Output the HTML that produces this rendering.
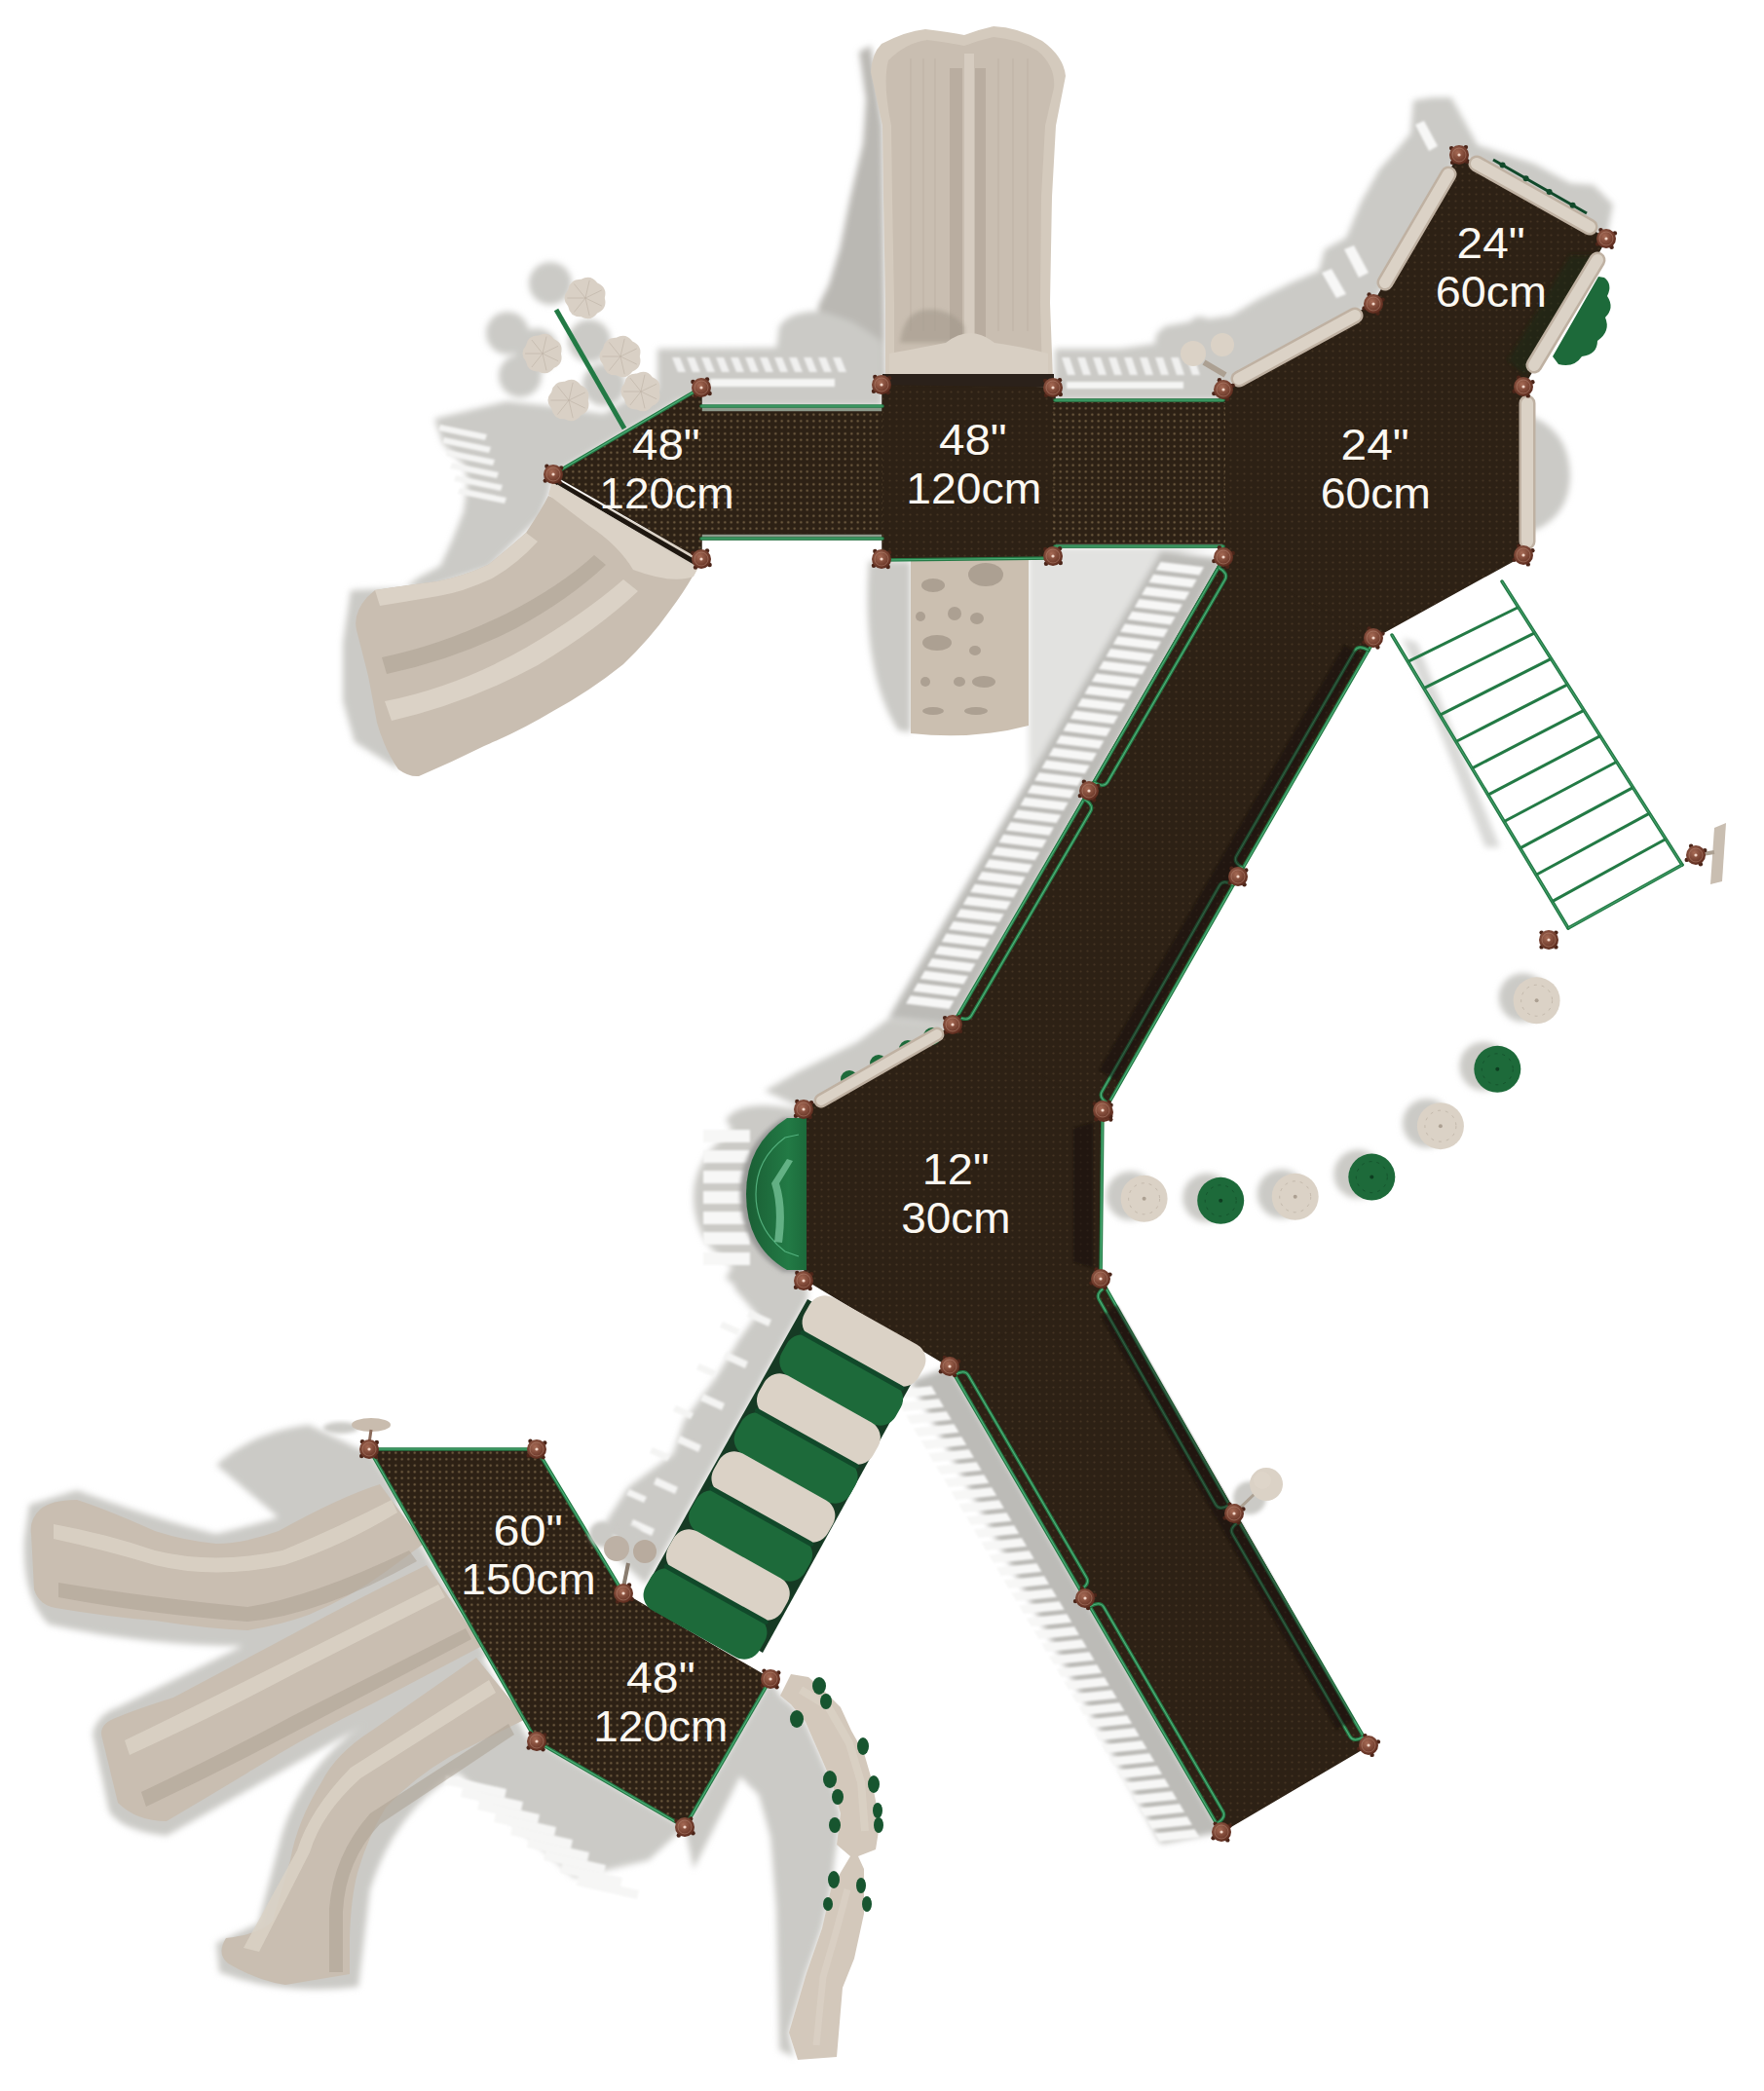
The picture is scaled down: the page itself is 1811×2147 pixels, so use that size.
<!DOCTYPE html>
<html><head><meta charset="utf-8"><style>
html,body{margin:0;padding:0;background:#fff;}
body{width:1811px;height:2147px;overflow:hidden;font-family:"Liberation Sans", sans-serif;}
svg{display:block;}
</style></head><body>
<svg width="1811" height="2147" viewBox="0 0 1811 2147"><defs>
<filter id="b3" x="-20%" y="-20%" width="140%" height="140%"><feGaussianBlur stdDeviation="3"/></filter>
<filter id="b2" x="-20%" y="-20%" width="140%" height="140%"><feGaussianBlur stdDeviation="2"/></filter>
<filter id="b1" x="-20%" y="-20%" width="140%" height="140%"><feGaussianBlur stdDeviation="1"/></filter>
<pattern id="dots" width="7" height="7" patternUnits="userSpaceOnUse"><circle cx="3.5" cy="3.5" r="1.1" fill="#5a4630"/></pattern>
<pattern id="dotsB" width="6.5" height="6.5" patternUnits="userSpaceOnUse"><circle cx="3.25" cy="3.25" r="1.15" fill="#8a7452"/></pattern>
<radialGradient id="postg" cx="0.42" cy="0.38" r="0.62"><stop offset="0" stop-color="#a56a55"/><stop offset="1" stop-color="#5e2c1e"/></radialGradient>
<linearGradient id="gdisc" x1="0" y1="0" x2="1" y2="0"><stop offset="0" stop-color="#1a5e34"/><stop offset="0.7" stop-color="#227a45"/><stop offset="1" stop-color="#1c6a3b"/></linearGradient>
</defs>
<g filter="url(#b3)">
<path d="M882,53 L894,47 L906,129 L909,390 L840,390 L840,314 L851,292 L862,256 L873,202 L886,147 L889,102 Z" fill="#bab8b3" />
<path d="M800,335 Q812,318 845,320 L875,330 L905,350 L906,398 L792,398 Z" fill="#cbcac6" />
<polygon points="675.0,358.0 906.0,356.0 906.0,417.0 720.0,417.0 675.0,400.0" fill="#cbcac6" />
<path d="M446,430 L520,412 L575,418 L620,425 L660,400 L720,398 L568,487 L563,509 L555,530 L502,583 L443,603 L381,605 L360,606 L352,660 L352,720 L364,762 L409,790 L395,620 L428,594 L452,581 L464,555 L476,525 L480,494 L476,477 L455,456 Z" fill="#cbcac6" />
<polygon points="1083.0,358.0 1150.0,358.0 1192.0,352.0 1256.0,400.0 1256.0,411.0 1083.0,411.0" fill="#cbcac6" />
<path d="M1256,400 L1192,363 L1190,352 L1195,335 L1229,329 L1264,324 L1292,307 L1326,290 L1354,278 L1360,256 L1382,244 L1397,208 L1416,174 L1434,154 L1448,137 L1451,103 L1470,100 L1490,100 L1517,149 L1575,168 L1612,188 L1636,190 L1656,210 L1649,245 L1498,159 L1410,312 Z" fill="#cbcac6" />
<path d="M1566,425 Q1612,440 1612,490 Q1610,535 1566,548 Z" fill="#cbcac6" />
<path d="M935,576 L892,576 Q884,690 922,750 L935,752 Z" fill="#cbcac6" />
<path d="M1056,562 L1256,562 L1192,570 L1110,712 L1056,800 Z" fill="#e2e2e0" />
<polygon points="1256.0,574.0 1192.0,566.0 912.0,1045.0 978.0,1052.0" fill="#bcbbb7" />
<polygon points="979.0,1053.0 912.0,1046.0 880.0,1070.0 820.0,1100.0 785.0,1120.0 826.0,1139.0" fill="#cbcac6" />
<path d="M812,1138 Q760,1128 745,1150 L752,1160 Q712,1190 712,1228 Q712,1275 752,1300 L745,1312 Q760,1330 812,1325 L826,1320 L826,1139 Z" fill="#cbcac6" />
<polygon points="975.0,1403.0 935.0,1418.0 1192.0,1893.0 1254.0,1881.0" fill="#bcbbb7" />
<polygon points="829.0,1320.0 793.0,1300.0 754.0,1311.0 754.0,1323.0 777.0,1350.0 759.0,1375.0 736.0,1413.0 702.0,1459.0 691.0,1493.0 645.0,1527.0 623.0,1561.0 616.0,1583.0 663.0,1627.0 829.0,1334.0" fill="#cbcac6" />
<path d="M222,1504 Q260,1470 317,1463 L376,1491 L379,1488 L410,1540 L300,1570 Z" fill="#cbcac6" />
<polygon points="551.0,1788.0 703.0,1876.0 666.0,1910.0 590.0,1928.0 461.0,1812.0" fill="#cbcac6" />
<path d="M791,1724 L801,1741 L812,1750 L827,1768 L841,1800 L854,1830 L863,1862 L859,1894 L853,1940 L844,1980 L828,2026 L810,2087 L815,2112 L800,2105 L797,1960 L791,1886 L779,1843 L760,1824 L712,1919 L703,1876 Z" fill="#cbcac6" />
<path d="M30,1545 L79,1530 Q160,1560 222,1575 Q330,1550 390,1514 L440,1600 Q330,1690 254,1690 Q150,1690 50,1668 Q22,1640 25,1580 Z" fill="#cbcac6" />
<path d="M95,1780 Q100,1760 121,1753 L438,1597 L500,1700 L171,1885 Q125,1880 112,1860 Z" fill="#cbcac6" />
<path d="M222,1995 L265,1975 L285,1900 Q300,1830 360,1780 L489,1692 L545,1790 L470,1820 Q405,1860 380,1940 L368,2040 Q290,2050 225,2025 Z" fill="#cbcac6" />
<circle cx="565.0" cy="291.0" r="22.0" fill="#cbcac6" />
<circle cx="521.0" cy="342.0" r="22.0" fill="#cbcac6" />
<circle cx="534.0" cy="386.0" r="22.0" fill="#cbcac6" />
<circle cx="551.0" cy="359.0" r="22.0" fill="#cbcac6" />
<circle cx="605.0" cy="350.0" r="22.0" fill="#cbcac6" />
<circle cx="620.0" cy="395.0" r="22.0" fill="#cbcac6" />
<circle cx="1563.6" cy="1024.3" r="25.0" fill="#cbcac6" />
<circle cx="1523.3" cy="1094.8" r="25.0" fill="#cbcac6" />
<circle cx="1464.9" cy="1153.2" r="25.0" fill="#cbcac6" />
<circle cx="1394.3" cy="1205.6" r="25.0" fill="#cbcac6" />
<circle cx="1315.7" cy="1225.8" r="25.0" fill="#cbcac6" />
<circle cx="1239.2" cy="1229.8" r="25.0" fill="#cbcac6" />
<circle cx="1160.6" cy="1227.8" r="25.0" fill="#cbcac6" />
<polygon points="1440.0,655.0 1455.0,660.0 1540.0,870.0 1525.0,870.0" fill="#d9d9d7" />
<circle cx="1200.0" cy="350.0" r="14.0" fill="#cbcac6" />
<circle cx="1232.0" cy="338.0" r="13.0" fill="#cbcac6" />
</g>
<g fill="#f7f7f6" filter="url(#b1)">
<polygon points="1236.0,582.3 1231.3,590.6 1186.7,585.2 1191.5,576.9" fill="#f7f7f6" />
<polygon points="1228.7,595.1 1223.9,603.3 1179.4,597.9 1184.1,589.7" fill="#f7f7f6" />
<polygon points="1221.4,607.8 1216.6,616.1 1172.0,610.7 1176.8,602.4" fill="#f7f7f6" />
<polygon points="1214.0,620.5 1209.3,628.8 1164.7,623.4 1169.5,615.1" fill="#f7f7f6" />
<polygon points="1206.7,633.2 1201.9,641.5 1157.4,636.1 1162.1,627.8" fill="#f7f7f6" />
<polygon points="1199.4,646.0 1194.6,654.2 1150.0,648.8 1154.8,640.6" fill="#f7f7f6" />
<polygon points="1192.0,658.7 1187.3,667.0 1142.7,661.6 1147.5,653.3" fill="#f7f7f6" />
<polygon points="1184.7,671.4 1179.9,679.7 1135.4,674.3 1140.1,666.0" fill="#f7f7f6" />
<polygon points="1177.4,684.1 1172.6,692.4 1128.0,687.0 1132.8,678.7" fill="#f7f7f6" />
<polygon points="1170.0,696.8 1165.3,705.1 1120.7,699.7 1125.5,691.4" fill="#f7f7f6" />
<polygon points="1162.7,709.6 1157.9,717.8 1113.4,712.4 1118.1,704.2" fill="#f7f7f6" />
<polygon points="1155.4,722.3 1150.6,730.6 1106.0,725.2 1110.8,716.9" fill="#f7f7f6" />
<polygon points="1148.0,735.0 1143.3,743.3 1098.7,737.9 1103.5,729.6" fill="#f7f7f6" />
<polygon points="1140.7,747.7 1135.9,756.0 1091.4,750.6 1096.1,742.3" fill="#f7f7f6" />
<polygon points="1133.4,760.5 1128.6,768.7 1084.0,763.3 1088.8,755.1" fill="#f7f7f6" />
<polygon points="1126.0,773.2 1121.3,781.5 1076.7,776.1 1081.5,767.8" fill="#f7f7f6" />
<polygon points="1118.7,785.9 1113.9,794.2 1069.4,788.8 1074.1,780.5" fill="#f7f7f6" />
<polygon points="1111.4,798.6 1106.6,806.9 1062.0,801.5 1066.8,793.2" fill="#f7f7f6" />
<polygon points="1104.0,811.3 1099.3,819.6 1054.7,814.2 1059.5,805.9" fill="#f7f7f6" />
<polygon points="1096.7,824.1 1091.9,832.3 1047.4,826.9 1052.1,818.7" fill="#f7f7f6" />
<polygon points="1089.4,836.8 1084.6,845.1 1040.0,839.7 1044.8,831.4" fill="#f7f7f6" />
<polygon points="1082.0,849.5 1077.3,857.8 1032.7,852.4 1037.5,844.1" fill="#f7f7f6" />
<polygon points="1074.7,862.2 1069.9,870.5 1025.4,865.1 1030.1,856.8" fill="#f7f7f6" />
<polygon points="1067.4,875.0 1062.6,883.2 1018.0,877.8 1022.8,869.6" fill="#f7f7f6" />
<polygon points="1060.0,887.7 1055.3,896.0 1010.7,890.6 1015.5,882.3" fill="#f7f7f6" />
<polygon points="1052.7,900.4 1047.9,908.7 1003.4,903.3 1008.1,895.0" fill="#f7f7f6" />
<polygon points="1045.4,913.1 1040.6,921.4 996.0,916.0 1000.8,907.7" fill="#f7f7f6" />
<polygon points="1038.0,925.8 1033.3,934.1 988.7,928.7 993.5,920.4" fill="#f7f7f6" />
<polygon points="1030.7,938.6 1025.9,946.8 981.4,941.4 986.1,933.2" fill="#f7f7f6" />
<polygon points="1023.4,951.3 1018.6,959.6 974.0,954.2 978.8,945.9" fill="#f7f7f6" />
<polygon points="1016.0,964.0 1011.3,972.3 966.7,966.9 971.5,958.6" fill="#f7f7f6" />
<polygon points="1008.7,976.7 1003.9,985.0 959.4,979.6 964.1,971.3" fill="#f7f7f6" />
<polygon points="1001.4,989.5 996.6,997.7 952.0,992.3 956.8,984.1" fill="#f7f7f6" />
<polygon points="994.0,1002.2 989.3,1010.5 944.7,1005.1 949.5,996.8" fill="#f7f7f6" />
<polygon points="986.7,1014.9 981.9,1023.2 937.4,1017.8 942.1,1009.5" fill="#f7f7f6" />
<polygon points="979.4,1027.6 974.6,1035.9 930.0,1030.5 934.8,1022.2" fill="#f7f7f6" />
<polygon points="956.3,1423.2 961.3,1431.7 919.7,1435.9 914.7,1427.5" fill="#f7f7f6" />
<polygon points="964.0,1436.2 969.0,1444.7 927.4,1448.9 922.4,1440.5" fill="#f7f7f6" />
<polygon points="971.7,1449.2 976.8,1457.7 935.2,1461.9 930.2,1453.5" fill="#f7f7f6" />
<polygon points="979.5,1462.2 984.5,1470.7 942.9,1474.9 937.9,1466.5" fill="#f7f7f6" />
<polygon points="987.2,1475.2 992.2,1483.7 950.6,1487.9 945.6,1479.5" fill="#f7f7f6" />
<polygon points="994.9,1488.2 999.9,1496.7 958.3,1500.9 953.3,1492.5" fill="#f7f7f6" />
<polygon points="1002.6,1501.2 1007.6,1509.7 966.1,1513.9 961.0,1505.5" fill="#f7f7f6" />
<polygon points="1010.3,1514.2 1015.4,1522.7 973.8,1526.9 968.8,1518.5" fill="#f7f7f6" />
<polygon points="1018.1,1527.2 1023.1,1535.7 981.5,1539.9 976.5,1531.5" fill="#f7f7f6" />
<polygon points="1025.8,1540.2 1030.8,1548.7 989.2,1552.9 984.2,1544.5" fill="#f7f7f6" />
<polygon points="1033.5,1553.2 1038.5,1561.7 997.0,1565.9 991.9,1557.5" fill="#f7f7f6" />
<polygon points="1041.2,1566.2 1046.3,1574.7 1004.7,1578.9 999.7,1570.5" fill="#f7f7f6" />
<polygon points="1049.0,1579.2 1054.0,1587.7 1012.4,1591.9 1007.4,1583.5" fill="#f7f7f6" />
<polygon points="1056.7,1592.2 1061.7,1600.7 1020.1,1604.9 1015.1,1596.5" fill="#f7f7f6" />
<polygon points="1064.4,1605.2 1069.4,1613.7 1027.8,1617.9 1022.8,1609.5" fill="#f7f7f6" />
<polygon points="1072.1,1618.2 1077.1,1626.7 1035.6,1630.9 1030.5,1622.5" fill="#f7f7f6" />
<polygon points="1079.8,1631.2 1084.9,1639.7 1043.3,1643.9 1038.3,1635.5" fill="#f7f7f6" />
<polygon points="1087.6,1644.2 1092.6,1652.7 1051.0,1656.9 1046.0,1648.5" fill="#f7f7f6" />
<polygon points="1095.3,1657.2 1100.3,1665.7 1058.7,1669.9 1053.7,1661.5" fill="#f7f7f6" />
<polygon points="1103.0,1670.2 1108.0,1678.7 1066.5,1682.9 1061.4,1674.5" fill="#f7f7f6" />
<polygon points="1110.7,1683.2 1115.8,1691.7 1074.2,1695.9 1069.2,1687.5" fill="#f7f7f6" />
<polygon points="1118.5,1696.2 1123.5,1704.7 1081.9,1708.9 1076.9,1700.4" fill="#f7f7f6" />
<polygon points="1126.2,1709.2 1131.2,1717.7 1089.6,1721.9 1084.6,1713.5" fill="#f7f7f6" />
<polygon points="1133.9,1722.2 1138.9,1730.7 1097.3,1734.9 1092.3,1726.5" fill="#f7f7f6" />
<polygon points="1141.6,1735.2 1146.6,1743.7 1105.1,1747.9 1100.0,1739.5" fill="#f7f7f6" />
<polygon points="1149.3,1748.2 1154.4,1756.7 1112.8,1760.9 1107.8,1752.5" fill="#f7f7f6" />
<polygon points="1157.1,1761.2 1162.1,1769.7 1120.5,1773.9 1115.5,1765.5" fill="#f7f7f6" />
<polygon points="1164.8,1774.2 1169.8,1782.7 1128.2,1786.9 1123.2,1778.5" fill="#f7f7f6" />
<polygon points="1172.5,1787.2 1177.5,1795.7 1136.0,1799.9 1130.9,1791.5" fill="#f7f7f6" />
<polygon points="1180.2,1800.2 1185.3,1808.7 1143.7,1812.9 1138.7,1804.5" fill="#f7f7f6" />
<polygon points="1188.0,1813.2 1193.0,1821.7 1151.4,1825.9 1146.4,1817.4" fill="#f7f7f6" />
<polygon points="1195.7,1826.2 1200.7,1834.7 1159.1,1838.9 1154.1,1830.5" fill="#f7f7f6" />
<polygon points="1203.4,1839.2 1208.4,1847.7 1166.8,1851.9 1161.8,1843.5" fill="#f7f7f6" />
<polygon points="1211.1,1852.2 1216.1,1860.7 1174.6,1864.9 1169.5,1856.5" fill="#f7f7f6" />
<polygon points="1218.8,1865.2 1223.9,1873.7 1182.3,1877.9 1177.3,1869.5" fill="#f7f7f6" />
<polygon points="1226.6,1878.2 1231.6,1886.7 1190.0,1890.9 1185.0,1882.5" fill="#f7f7f6" />
<polygon points="729.0,389.0 857.0,389.0 857.0,397.0 729.0,397.0" fill="#f5f5f4" />
<polygon points="690.0,367.0 698.0,367.0 704.0,382.0 696.0,382.0" fill="#f0f0ef" />
<polygon points="705.0,367.0 713.0,367.0 719.0,382.0 711.0,382.0" fill="#f0f0ef" />
<polygon points="720.0,367.0 728.0,367.0 734.0,382.0 726.0,382.0" fill="#f0f0ef" />
<polygon points="735.0,367.0 743.0,367.0 749.0,382.0 741.0,382.0" fill="#f0f0ef" />
<polygon points="750.0,367.0 758.0,367.0 764.0,382.0 756.0,382.0" fill="#f0f0ef" />
<polygon points="765.0,367.0 773.0,367.0 779.0,382.0 771.0,382.0" fill="#f0f0ef" />
<polygon points="780.0,367.0 788.0,367.0 794.0,382.0 786.0,382.0" fill="#f0f0ef" />
<polygon points="795.0,367.0 803.0,367.0 809.0,382.0 801.0,382.0" fill="#f0f0ef" />
<polygon points="810.0,367.0 818.0,367.0 824.0,382.0 816.0,382.0" fill="#f0f0ef" />
<polygon points="825.0,367.0 833.0,367.0 839.0,382.0 831.0,382.0" fill="#f0f0ef" />
<polygon points="840.0,367.0 848.0,367.0 854.0,382.0 846.0,382.0" fill="#f0f0ef" />
<polygon points="855.0,367.0 863.0,367.0 869.0,382.0 861.0,382.0" fill="#f0f0ef" />
<polygon points="1090.0,367.0 1098.0,367.0 1104.0,385.0 1096.0,385.0" fill="#f0f0ef" />
<polygon points="1106.0,367.0 1114.0,367.0 1120.0,385.0 1112.0,385.0" fill="#f0f0ef" />
<polygon points="1122.0,367.0 1130.0,367.0 1136.0,385.0 1128.0,385.0" fill="#f0f0ef" />
<polygon points="1138.0,367.0 1146.0,367.0 1152.0,385.0 1144.0,385.0" fill="#f0f0ef" />
<polygon points="1154.0,367.0 1162.0,367.0 1168.0,385.0 1160.0,385.0" fill="#f0f0ef" />
<polygon points="1170.0,367.0 1178.0,367.0 1184.0,385.0 1176.0,385.0" fill="#f0f0ef" />
<polygon points="1186.0,367.0 1194.0,367.0 1200.0,385.0 1192.0,385.0" fill="#f0f0ef" />
<polygon points="1202.0,367.0 1210.0,367.0 1216.0,385.0 1208.0,385.0" fill="#f0f0ef" />
<polygon points="1218.0,367.0 1226.0,367.0 1232.0,385.0 1224.0,385.0" fill="#f0f0ef" />
<polygon points="1095.0,392.0 1215.0,392.0 1215.0,399.0 1095.0,399.0" fill="#f5f5f4" />
<polygon points="452.0,436.0 500.0,446.0 498.0,452.0 450.0,442.0" fill="#f4f4f3" />
<polygon points="456.0,449.0 504.0,459.0 502.0,465.0 454.0,455.0" fill="#f4f4f3" />
<polygon points="460.0,462.0 508.0,472.0 506.0,478.0 458.0,468.0" fill="#f4f4f3" />
<polygon points="464.0,475.0 512.0,485.0 510.0,491.0 462.0,481.0" fill="#f4f4f3" />
<polygon points="468.0,488.0 516.0,498.0 514.0,504.0 466.0,494.0" fill="#f4f4f3" />
<polygon points="472.0,501.0 520.0,511.0 518.0,517.0 470.0,507.0" fill="#f4f4f3" />
<polygon points="458.0,1823.0 520.0,1837.0 518.0,1846.0 456.0,1832.0" fill="#f6f6f5" />
<polygon points="475.0,1836.0 537.0,1850.0 535.0,1859.0 473.0,1845.0" fill="#f6f6f5" />
<polygon points="492.0,1849.0 554.0,1863.0 552.0,1872.0 490.0,1858.0" fill="#f6f6f5" />
<polygon points="509.0,1862.0 571.0,1876.0 569.0,1885.0 507.0,1871.0" fill="#f6f6f5" />
<polygon points="526.0,1875.0 588.0,1889.0 586.0,1898.0 524.0,1884.0" fill="#f6f6f5" />
<polygon points="543.0,1888.0 605.0,1902.0 603.0,1911.0 541.0,1897.0" fill="#f6f6f5" />
<polygon points="560.0,1901.0 622.0,1915.0 620.0,1924.0 558.0,1910.0" fill="#f6f6f5" />
<polygon points="577.0,1914.0 639.0,1928.0 637.0,1937.0 575.0,1923.0" fill="#f6f6f5" />
<polygon points="594.0,1927.0 656.0,1941.0 654.0,1950.0 592.0,1936.0" fill="#f6f6f5" />
<polygon points="770.0,1345.0 792.0,1355.0 789.0,1362.0 767.0,1352.0" fill="#f4f4f3" />
<polygon points="742.0,1357.0 760.0,1365.0 757.0,1371.0 739.0,1363.0" fill="#f4f4f3" />
<polygon points="746.0,1388.0 768.0,1398.0 765.0,1405.0 743.0,1395.0" fill="#f4f4f3" />
<polygon points="718.0,1400.0 736.0,1408.0 733.0,1414.0 715.0,1406.0" fill="#f4f4f3" />
<polygon points="722.0,1431.0 744.0,1441.0 741.0,1448.0 719.0,1438.0" fill="#f4f4f3" />
<polygon points="694.0,1443.0 712.0,1451.0 709.0,1457.0 691.0,1449.0" fill="#f4f4f3" />
<polygon points="698.0,1474.0 720.0,1484.0 717.0,1491.0 695.0,1481.0" fill="#f4f4f3" />
<polygon points="670.0,1486.0 688.0,1494.0 685.0,1500.0 667.0,1492.0" fill="#f4f4f3" />
<polygon points="674.0,1517.0 696.0,1527.0 693.0,1534.0 671.0,1524.0" fill="#f4f4f3" />
<polygon points="646.0,1529.0 664.0,1537.0 661.0,1543.0 643.0,1535.0" fill="#f4f4f3" />
<polygon points="650.0,1560.0 672.0,1570.0 669.0,1577.0 647.0,1567.0" fill="#f4f4f3" />
<polygon points="622.0,1572.0 640.0,1580.0 637.0,1586.0 619.0,1578.0" fill="#f4f4f3" />
<polygon points="1453.0,128.0 1462.0,124.0 1476.0,150.0 1467.0,155.0" fill="#f7f7f6" />
<polygon points="1380.0,256.0 1390.0,252.0 1405.0,280.0 1395.0,285.0" fill="#f7f7f6" />
<polygon points="1357.0,280.0 1367.0,276.0 1382.0,302.0 1372.0,306.0" fill="#f7f7f6" />
<polygon points="722.0,1160.0 770.0,1160.0 770.0,1173.0 722.0,1173.0" fill="#f7f7f6" />
<polygon points="722.0,1181.0 770.0,1181.0 770.0,1194.0 722.0,1194.0" fill="#f7f7f6" />
<polygon points="722.0,1202.0 770.0,1202.0 770.0,1215.0 722.0,1215.0" fill="#f7f7f6" />
<polygon points="722.0,1223.0 770.0,1223.0 770.0,1236.0 722.0,1236.0" fill="#f7f7f6" />
<polygon points="722.0,1244.0 770.0,1244.0 770.0,1257.0 722.0,1257.0" fill="#f7f7f6" />
<polygon points="722.0,1265.0 770.0,1265.0 770.0,1278.0 722.0,1278.0" fill="#f7f7f6" />
<polygon points="722.0,1286.0 770.0,1286.0 770.0,1299.0 722.0,1299.0" fill="#f7f7f6" />
</g>
<path d="M909,390 L909,311 L907,202 L906,129 L894,74 Q895,55 905,45 Q930,32 950,30 Q975,33 990,36 Q1005,30 1020,27 Q1045,28 1070,42 Q1092,58 1094,78 L1084,129 L1080,202 L1078,311 L1081,390 Z" fill="#d4cabd" />
<path d="M918,385 L918,311 L916,202 L915,129 Q906,85 912,62 Q930,44 952,41 Q975,44 990,47 Q1005,41 1020,38 Q1045,40 1065,52 Q1084,68 1082,90 L1073,129 L1069,202 L1068,311 L1070,385 Z" fill="#c9beb1" />
<rect x="990" y="55" width="10" height="295" fill="#d6ccc0"/>
<rect x="975" y="70" width="13" height="280" fill="#ab9f91" opacity="0.55"/>
<rect x="1001" y="70" width="11" height="280" fill="#ab9f91" opacity="0.55"/>
<line x1="935.0" y1="60.0" x2="935.0" y2="340.0" stroke="#b3a798" stroke-width="1" opacity="0.5"/>
<line x1="948.0" y1="60.0" x2="948.0" y2="340.0" stroke="#b3a798" stroke-width="1" opacity="0.5"/>
<line x1="960.0" y1="60.0" x2="960.0" y2="340.0" stroke="#b3a798" stroke-width="1" opacity="0.5"/>
<line x1="1025.0" y1="60.0" x2="1025.0" y2="340.0" stroke="#b3a798" stroke-width="1" opacity="0.5"/>
<line x1="1040.0" y1="60.0" x2="1040.0" y2="340.0" stroke="#b3a798" stroke-width="1" opacity="0.5"/>
<line x1="1055.0" y1="60.0" x2="1055.0" y2="340.0" stroke="#b3a798" stroke-width="1" opacity="0.5"/>
<path d="M924,352 Q928,320 950,318 Q975,316 990,335 L990,352 Z" fill="#9e9487" opacity="0.55" filter="url(#b2)"/>
<path d="M913,385 L913,363 Q950,356 971,352 Q996,332 1021,352 Q1050,356 1076,363 L1076,385 Z" fill="#d8cfc3" />
<polygon points="906.0,384.0 1082.0,384.0 1082.0,397.0 906.0,397.0" fill="#2b211a" />
<path d="M935,575 L1056,575 L1056,745 Q1000,760 935,753 Z" fill="#cbbfb0" />
<ellipse cx="958" cy="601" rx="12" ry="7" fill="#aca092"/>
<ellipse cx="1012" cy="590" rx="18" ry="12" fill="#aca092"/>
<ellipse cx="945" cy="633" rx="5" ry="5" fill="#aca092"/>
<ellipse cx="1003" cy="635" rx="7" ry="6" fill="#aca092"/>
<ellipse cx="962" cy="660" rx="15" ry="8" fill="#aca092"/>
<ellipse cx="1001" cy="668" rx="6" ry="5" fill="#aca092"/>
<ellipse cx="950" cy="700" rx="5" ry="5" fill="#aca092"/>
<ellipse cx="1010" cy="700" rx="12" ry="6" fill="#aca092"/>
<ellipse cx="958" cy="730" rx="11" ry="4" fill="#aca092"/>
<ellipse cx="1002" cy="730" rx="12" ry="4" fill="#aca092"/>
<ellipse cx="980" cy="630" rx="7" ry="7" fill="#aca092"/>
<ellipse cx="985" cy="700" rx="6" ry="5" fill="#aca092"/>
<path d="M563,509 Q556,523 540,547 Q520,565 501,580 Q475,592 449,597 Q410,602 385,606 L377,613 Q362,630 366,647 Q372,670 378,694 Q383,720 387,742 Q395,770 409,790 Q420,798 430,797 Q465,782 497,766 Q535,750 568,730 Q605,710 640,682 Q668,655 687,628 Q702,608 711,592 L721,575 Z" fill="#c9beb1" />
<path d="M385,606 Q410,602 449,597 Q475,592 501,580 Q520,565 540,547 L552,556 Q530,580 505,594 Q475,608 450,612 Q415,618 390,622 Z" fill="#dbd2c6" />
<path d="M395,720 Q470,705 540,665 Q600,630 640,595 L655,607 Q615,645 552,683 Q480,722 402,740 Z" fill="#dbd2c6" />
<path d="M392,675 Q455,662 520,630 Q575,602 610,570 L622,580 Q585,615 530,645 Q468,677 397,692 Z" fill="#aca092" opacity="0.55"/>
<path d="M568,490 L721,575 L712,592 Q690,600 650,585 Q635,560 605,540 Q585,525 563,508 Z" fill="#dbd2c6" />
<path d="M390,1524 Q349,1537 286,1572 Q250,1585 222,1585 Q190,1582 159,1572 Q110,1550 79,1540 Q52,1540 41,1550 Q30,1560 32,1575 L35,1632 Q40,1648 57,1651 Q110,1660 159,1664 Q210,1672 254,1674 Q290,1668 317,1658 Q360,1640 397,1613 L435,1585 Z" fill="#c9beb1" />
<path d="M438,1607 Q370,1640 302,1677 Q240,1710 178,1743 Q140,1755 121,1763 Q100,1770 105,1785 L121,1851 Q140,1870 171,1870 Q230,1835 286,1801 Q330,1775 381,1750 L495,1690 Z" fill="#c9beb1" />
<path d="M489,1702 L383,1776 Q345,1800 330,1830 Q305,1870 298,1910 L280,1972 Q268,1986 232,1990 Q222,2006 234,2016 Q265,2034 293,2038 L359,2027 L359,1990 Q360,1950 367,1923 Q378,1885 396,1856 Q425,1825 463,1803 L540,1765 Z" fill="#c9beb1" />
<path d="M55,1565 Q110,1575 159,1592 Q220,1607 290,1592 Q350,1567 402,1540 L408,1553 Q352,1587 292,1607 Q220,1622 159,1607 Q110,1592 55,1580 Z" fill="#dbd2c6" opacity="0.85"/>
<path d="M60,1625 Q150,1640 254,1650 Q320,1640 420,1592 L428,1603 Q330,1658 254,1665 Q150,1657 60,1640 Z" fill="#aca092" opacity="0.5"/>
<path d="M128,1787 Q200,1752 300,1702 L450,1627 L457,1640 L305,1717 Q210,1767 133,1802 Z" fill="#dbd2c6" opacity="0.85"/>
<path d="M145,1840 Q230,1800 300,1762 L478,1672 L484,1683 L305,1777 Q230,1817 150,1855 Z" fill="#aca092" opacity="0.5"/>
<path d="M250,2000 L305,1900 Q318,1858 360,1815 L502,1725 L509,1738 L370,1826 Q330,1862 318,1902 L266,2004 Z" fill="#dbd2c6" opacity="0.85"/>
<path d="M338,2025 L338,1960 Q342,1905 380,1862 L522,1770 L528,1781 L390,1873 Q355,1910 352,1962 L352,2025 Z" fill="#aca092" opacity="0.55"/>
<polygon points="718.0,417.0 906.0,417.0 906.0,555.0 718.0,555.0" fill="#8d9a8c" />
<polygon points="1081.0,409.0 1258.0,409.0 1258.0,563.0 1081.0,563.0" fill="#8d9a8c" />
<polygon points="568.0,487.0 720.0,398.0 720.0,574.0" fill="#2d2115" stroke="#2d2115" stroke-width="1.5" stroke-linejoin="round"/>
<polygon points="718.0,423.0 906.0,423.0 906.0,548.0 718.0,548.0" fill="#2d2115" stroke="#2d2115" stroke-width="1.5" stroke-linejoin="round"/>
<polygon points="906.0,396.0 1083.0,398.0 1083.0,572.0 906.0,574.0" fill="#2d2115" stroke="#2d2115" stroke-width="1.5" stroke-linejoin="round"/>
<polygon points="1081.0,413.0 1258.0,413.0 1258.0,558.0 1081.0,558.0" fill="#2d2115" stroke="#2d2115" stroke-width="1.5" stroke-linejoin="round"/>
<polygon points="1256.0,400.0 1410.0,312.0 1498.0,159.0 1649.0,245.0 1564.0,397.0 1564.0,570.0 1410.0,655.0 1256.0,572.0" fill="#2d2115" stroke="#2d2115" stroke-width="1.5" stroke-linejoin="round"/>
<polygon points="1256.0,572.0 1410.0,655.0 1133.0,1142.0 978.0,1052.0" fill="#2d2115" stroke="#2d2115" stroke-width="1.5" stroke-linejoin="round"/>
<polygon points="979.0,1053.0 826.0,1139.0 826.0,1313.0 975.0,1403.0 1130.0,1313.0 1132.0,1140.0" fill="#2d2115" stroke="#2d2115" stroke-width="1.5" stroke-linejoin="round"/>
<polygon points="975.0,1403.0 1130.0,1313.0 1405.0,1792.0 1254.0,1881.0" fill="#2d2115" stroke="#2d2115" stroke-width="1.5" stroke-linejoin="round"/>
<polygon points="379.0,1488.0 551.0,1488.0 640.0,1636.0 791.0,1724.0 703.0,1876.0 551.0,1788.0" fill="#2d2115" stroke="#2d2115" stroke-width="1.5" stroke-linejoin="round"/>
<polygon points="568.0,487.0 720.0,398.0 720.0,574.0" fill="url(#dotsB)" opacity="0.75"/>
<polygon points="718.0,423.0 906.0,423.0 906.0,548.0 718.0,548.0" fill="url(#dotsB)" opacity="0.75"/>
<polygon points="906.0,396.0 1083.0,398.0 1083.0,572.0 906.0,574.0" fill="url(#dots)" opacity="0.5"/>
<polygon points="1081.0,413.0 1258.0,413.0 1258.0,558.0 1081.0,558.0" fill="url(#dotsB)" opacity="0.75"/>
<polygon points="1256.0,400.0 1410.0,312.0 1498.0,159.0 1649.0,245.0 1564.0,397.0 1564.0,570.0 1410.0,655.0 1256.0,572.0" fill="url(#dots)" opacity="0.5"/>
<polygon points="1256.0,572.0 1410.0,655.0 1133.0,1142.0 978.0,1052.0" fill="url(#dots)" opacity="0.5"/>
<polygon points="979.0,1053.0 826.0,1139.0 826.0,1313.0 975.0,1403.0 1130.0,1313.0 1132.0,1140.0" fill="url(#dots)" opacity="0.5"/>
<polygon points="975.0,1403.0 1130.0,1313.0 1405.0,1792.0 1254.0,1881.0" fill="url(#dots)" opacity="0.5"/>
<polygon points="379.0,1488.0 551.0,1488.0 640.0,1636.0 791.0,1724.0 703.0,1876.0 551.0,1788.0" fill="url(#dotsB)" opacity="0.75"/>
<polygon points="1636.0,262.0 1566.0,386.0 1548.0,370.0 1612.0,262.0" fill="#1a2a15" opacity="0.55" filter="url(#b2)"/>
<line x1="720.0" y1="417.0" x2="906.0" y2="417.0" stroke="#237a45" stroke-width="3.5" stroke-linecap="round"/>
<line x1="720.0" y1="417.0" x2="906.0" y2="417.0" stroke="#5fc08c" stroke-width="1.1" stroke-linecap="round" opacity="0.75"/>
<line x1="720.0" y1="553.0" x2="906.0" y2="553.0" stroke="#237a45" stroke-width="3.5" stroke-linecap="round"/>
<line x1="720.0" y1="553.0" x2="906.0" y2="553.0" stroke="#5fc08c" stroke-width="1.1" stroke-linecap="round" opacity="0.75"/>
<line x1="1083.0" y1="411.0" x2="1256.0" y2="411.0" stroke="#237a45" stroke-width="3.5" stroke-linecap="round"/>
<line x1="1083.0" y1="411.0" x2="1256.0" y2="411.0" stroke="#5fc08c" stroke-width="1.1" stroke-linecap="round" opacity="0.75"/>
<line x1="1083.0" y1="561.0" x2="1256.0" y2="561.0" stroke="#237a45" stroke-width="3.5" stroke-linecap="round"/>
<line x1="1083.0" y1="561.0" x2="1256.0" y2="561.0" stroke="#5fc08c" stroke-width="1.1" stroke-linecap="round" opacity="0.75"/>
<line x1="906.0" y1="575.0" x2="1083.0" y2="573.0" stroke="#237a45" stroke-width="3.5" stroke-linecap="round"/>
<line x1="906.0" y1="575.0" x2="1083.0" y2="573.0" stroke="#5fc08c" stroke-width="1.1" stroke-linecap="round" opacity="0.75"/>
<line x1="568.0" y1="487.0" x2="720.0" y2="398.0" stroke="#237a45" stroke-width="3.5" stroke-linecap="round"/>
<line x1="568.0" y1="487.0" x2="720.0" y2="398.0" stroke="#5fc08c" stroke-width="1.1" stroke-linecap="round" opacity="0.75"/>
<line x1="570.0" y1="494.0" x2="718.0" y2="580.0" stroke="#1e1710" stroke-width="5" />
<line x1="572.0" y1="498.0" x2="716.0" y2="584.0" stroke="#d8d0c4" stroke-width="1.2" />
<line x1="1256.0" y1="574.0" x2="1118.0" y2="812.0" stroke="#237a45" stroke-width="3.5" stroke-linecap="round"/>
<line x1="1256.0" y1="574.0" x2="1118.0" y2="812.0" stroke="#5fc08c" stroke-width="1.1" stroke-linecap="round" opacity="0.75"/>
<path d="M1251.0,582.7 Q1261.4,588.7 1257.6,595.2 L1137.2,802.9 Q1133.4,809.4 1123.0,803.3" fill="none" stroke="#237a45" stroke-width="3.5" stroke-linecap="round"/>
<path d="M1251.0,582.7 Q1261.4,588.7 1257.6,595.2 L1137.2,802.9 Q1133.4,809.4 1123.0,803.3" fill="none" stroke="#5fc08c" stroke-width="1.1" opacity="0.75"/>
<line x1="1118.0" y1="812.0" x2="978.0" y2="1052.0" stroke="#237a45" stroke-width="3.5" stroke-linecap="round"/>
<line x1="1118.0" y1="812.0" x2="978.0" y2="1052.0" stroke="#5fc08c" stroke-width="1.1" stroke-linecap="round" opacity="0.75"/>
<path d="M1113.0,820.6 Q1123.3,826.7 1119.6,833.1 L997.2,1042.9 Q993.4,1049.4 983.0,1043.4" fill="none" stroke="#237a45" stroke-width="3.5" stroke-linecap="round"/>
<path d="M1113.0,820.6 Q1123.3,826.7 1119.6,833.1 L997.2,1042.9 Q993.4,1049.4 983.0,1043.4" fill="none" stroke="#5fc08c" stroke-width="1.1" opacity="0.75"/>
<line x1="1410.0" y1="659.0" x2="1271.0" y2="900.0" stroke="#237a45" stroke-width="3.5" stroke-linecap="round"/>
<line x1="1410.0" y1="659.0" x2="1271.0" y2="900.0" stroke="#5fc08c" stroke-width="1.1" stroke-linecap="round" opacity="0.75"/>
<path d="M1405.0,667.7 Q1394.6,661.6 1390.9,668.1 L1269.4,878.8 Q1265.6,885.3 1276.0,891.3" fill="none" stroke="#237a45" stroke-width="3.5" stroke-linecap="round"/>
<path d="M1405.0,667.7 Q1394.6,661.6 1390.9,668.1 L1269.4,878.8 Q1265.6,885.3 1276.0,891.3" fill="none" stroke="#5fc08c" stroke-width="1.1" opacity="0.75"/>
<line x1="1271.0" y1="900.0" x2="1133.0" y2="1142.0" stroke="#237a45" stroke-width="3.5" stroke-linecap="round"/>
<line x1="1271.0" y1="900.0" x2="1133.0" y2="1142.0" stroke="#5fc08c" stroke-width="1.1" stroke-linecap="round" opacity="0.75"/>
<path d="M1266.0,908.7 Q1255.7,902.7 1252.0,909.2 L1131.3,1120.8 Q1127.6,1127.3 1138.0,1133.3" fill="none" stroke="#237a45" stroke-width="3.5" stroke-linecap="round"/>
<path d="M1266.0,908.7 Q1255.7,902.7 1252.0,909.2 L1131.3,1120.8 Q1127.6,1127.3 1138.0,1133.3" fill="none" stroke="#5fc08c" stroke-width="1.1" opacity="0.75"/>
<line x1="975.0" y1="1403.0" x2="1114.0" y2="1641.0" stroke="#237a45" stroke-width="3.5" stroke-linecap="round"/>
<line x1="975.0" y1="1403.0" x2="1114.0" y2="1641.0" stroke="#5fc08c" stroke-width="1.1" stroke-linecap="round" opacity="0.75"/>
<path d="M980.0,1411.6 Q990.4,1405.6 994.2,1412.1 L1115.5,1619.8 Q1119.3,1626.3 1109.0,1632.4" fill="none" stroke="#237a45" stroke-width="3.5" stroke-linecap="round"/>
<path d="M980.0,1411.6 Q990.4,1405.6 994.2,1412.1 L1115.5,1619.8 Q1119.3,1626.3 1109.0,1632.4" fill="none" stroke="#5fc08c" stroke-width="1.1" opacity="0.75"/>
<line x1="1114.0" y1="1641.0" x2="1254.0" y2="1881.0" stroke="#237a45" stroke-width="3.5" stroke-linecap="round"/>
<line x1="1114.0" y1="1641.0" x2="1254.0" y2="1881.0" stroke="#5fc08c" stroke-width="1.1" stroke-linecap="round" opacity="0.75"/>
<path d="M1119.0,1649.6 Q1129.4,1643.6 1133.2,1650.1 L1255.5,1859.8 Q1259.3,1866.3 1249.0,1872.4" fill="none" stroke="#237a45" stroke-width="3.5" stroke-linecap="round"/>
<path d="M1119.0,1649.6 Q1129.4,1643.6 1133.2,1650.1 L1255.5,1859.8 Q1259.3,1866.3 1249.0,1872.4" fill="none" stroke="#5fc08c" stroke-width="1.1" opacity="0.75"/>
<line x1="1130.0" y1="1313.0" x2="1267.0" y2="1554.0" stroke="#237a45" stroke-width="3.5" stroke-linecap="round"/>
<line x1="1130.0" y1="1313.0" x2="1267.0" y2="1554.0" stroke="#5fc08c" stroke-width="1.1" stroke-linecap="round" opacity="0.75"/>
<path d="M1134.9,1321.7 Q1124.6,1327.7 1128.3,1334.3 L1248.0,1544.8 Q1251.7,1551.4 1262.1,1545.3" fill="none" stroke="#237a45" stroke-width="3.5" stroke-linecap="round"/>
<path d="M1134.9,1321.7 Q1124.6,1327.7 1128.3,1334.3 L1248.0,1544.8 Q1251.7,1551.4 1262.1,1545.3" fill="none" stroke="#5fc08c" stroke-width="1.1" opacity="0.75"/>
<line x1="1267.0" y1="1554.0" x2="1405.0" y2="1792.0" stroke="#237a45" stroke-width="3.5" stroke-linecap="round"/>
<line x1="1267.0" y1="1554.0" x2="1405.0" y2="1792.0" stroke="#5fc08c" stroke-width="1.1" stroke-linecap="round" opacity="0.75"/>
<path d="M1272.0,1562.7 Q1261.7,1568.7 1265.4,1575.2 L1385.9,1782.9 Q1389.6,1789.4 1400.0,1783.3" fill="none" stroke="#237a45" stroke-width="3.5" stroke-linecap="round"/>
<path d="M1272.0,1562.7 Q1261.7,1568.7 1265.4,1575.2 L1385.9,1782.9 Q1389.6,1789.4 1400.0,1783.3" fill="none" stroke="#5fc08c" stroke-width="1.1" opacity="0.75"/>
<line x1="1130.0" y1="1313.0" x2="1132.0" y2="1140.0" stroke="#237a45" stroke-width="3.5" stroke-linecap="round"/>
<line x1="1130.0" y1="1313.0" x2="1132.0" y2="1140.0" stroke="#5fc08c" stroke-width="1.1" stroke-linecap="round" opacity="0.75"/>
<line x1="379.0" y1="1488.0" x2="551.0" y2="1488.0" stroke="#237a45" stroke-width="3.5" stroke-linecap="round"/>
<line x1="379.0" y1="1488.0" x2="551.0" y2="1488.0" stroke="#5fc08c" stroke-width="1.1" stroke-linecap="round" opacity="0.75"/>
<line x1="551.0" y1="1488.0" x2="640.0" y2="1636.0" stroke="#237a45" stroke-width="3.5" stroke-linecap="round"/>
<line x1="551.0" y1="1488.0" x2="640.0" y2="1636.0" stroke="#5fc08c" stroke-width="1.1" stroke-linecap="round" opacity="0.75"/>
<line x1="379.0" y1="1488.0" x2="551.0" y2="1788.0" stroke="#237a45" stroke-width="3.5" stroke-linecap="round"/>
<line x1="379.0" y1="1488.0" x2="551.0" y2="1788.0" stroke="#5fc08c" stroke-width="1.1" stroke-linecap="round" opacity="0.75"/>
<line x1="551.0" y1="1788.0" x2="703.0" y2="1876.0" stroke="#237a45" stroke-width="3.5" stroke-linecap="round"/>
<line x1="551.0" y1="1788.0" x2="703.0" y2="1876.0" stroke="#5fc08c" stroke-width="1.1" stroke-linecap="round" opacity="0.75"/>
<line x1="703.0" y1="1876.0" x2="791.0" y2="1724.0" stroke="#237a45" stroke-width="3.5" stroke-linecap="round"/>
<line x1="703.0" y1="1876.0" x2="791.0" y2="1724.0" stroke="#5fc08c" stroke-width="1.1" stroke-linecap="round" opacity="0.75"/>
<g opacity="0.5" filter="url(#b1)">
<polygon points="1398.0,672.0 1147.0,1110.0 1128.0,1099.0 1380.0,662.0" fill="#140d07" />
<polygon points="1147.0,1340.0 1390.0,1766.0 1372.0,1776.0 1130.0,1352.0" fill="#140d07" />
<polygon points="1122.0,1152.0 1122.0,1302.0 1102.0,1296.0 1102.0,1158.0" fill="#140d07" />
</g>
<line x1="1272.0" y1="389.0" x2="1391.0" y2="324.0" stroke="#bfb1a2" stroke-width="17" stroke-linecap="round"/>
<line x1="1272.0" y1="389.0" x2="1391.0" y2="324.0" stroke="#dbd2c6" stroke-width="12" stroke-linecap="round"/>
<line x1="1422.0" y1="290.0" x2="1487.0" y2="179.0" stroke="#bfb1a2" stroke-width="17" stroke-linecap="round"/>
<line x1="1422.0" y1="290.0" x2="1487.0" y2="179.0" stroke="#dbd2c6" stroke-width="12" stroke-linecap="round"/>
<line x1="1516.0" y1="168.0" x2="1632.0" y2="233.0" stroke="#bfb1a2" stroke-width="17" stroke-linecap="round"/>
<line x1="1516.0" y1="168.0" x2="1632.0" y2="233.0" stroke="#dbd2c6" stroke-width="12" stroke-linecap="round"/>
<line x1="1640.0" y1="267.0" x2="1575.0" y2="375.0" stroke="#bfb1a2" stroke-width="17" stroke-linecap="round"/>
<line x1="1640.0" y1="267.0" x2="1575.0" y2="375.0" stroke="#dbd2c6" stroke-width="12" stroke-linecap="round"/>
<line x1="1568.0" y1="414.0" x2="1568.0" y2="556.0" stroke="#bfb1a2" stroke-width="17" stroke-linecap="round"/>
<line x1="1568.0" y1="414.0" x2="1568.0" y2="556.0" stroke="#dbd2c6" stroke-width="12" stroke-linecap="round"/>
<line x1="1533.0" y1="164.0" x2="1629.0" y2="219.0" stroke="#11492a" stroke-width="3" />
<circle cx="1542.6" cy="169.5" r="3.0" fill="#11492a" />
<circle cx="1566.6" cy="183.2" r="3.0" fill="#11492a" />
<circle cx="1590.6" cy="197.0" r="3.0" fill="#11492a" />
<circle cx="1614.6" cy="210.8" r="3.0" fill="#11492a" />
<path d="M1647,285 Q1656,292 1650,304 Q1658,316 1648,326 Q1654,340 1640,350 Q1640,364 1624,366 Q1616,378 1600,374 L1594,366 L1641,284 Z" fill="#1d6a3a" />
<circle cx="1225.0" cy="363.0" r="13.0" fill="#dbd2c6" />
<circle cx="1255.0" cy="354.0" r="12.0" fill="#dbd2c6" />
<line x1="1236.0" y1="372.0" x2="1258.0" y2="385.0" stroke="#aca092" stroke-width="6" />
<circle cx="872.0" cy="1108.0" r="9.0" fill="#1d6a3a" />
<circle cx="902.0" cy="1092.0" r="9.0" fill="#1d6a3a" />
<circle cx="932.0" cy="1077.0" r="9.0" fill="#1d6a3a" />
<circle cx="957.0" cy="1064.0" r="9.0" fill="#1d6a3a" />
<line x1="843.0" y1="1130.0" x2="962.0" y2="1062.0" stroke="#bfb1a2" stroke-width="15" stroke-linecap="round"/>
<line x1="843.0" y1="1130.0" x2="962.0" y2="1062.0" stroke="#dbd2c6" stroke-width="10" stroke-linecap="round"/>
<circle cx="1283.0" cy="1538.0" r="17.0" fill="#cbcac6" filter="url(#b2)"/>
<line x1="1267.0" y1="1554.0" x2="1290.0" y2="1532.0" stroke="#aca092" stroke-width="3" />
<circle cx="1300.0" cy="1524.0" r="17.0" fill="#dbd2c6" />
<circle cx="1296.0" cy="1520.0" r="9.0" fill="#e0d6cb" opacity="0.7"/>
<circle cx="618.0" cy="1575.0" r="13.0" fill="#cbcac6" filter="url(#b2)"/>
<circle cx="646.0" cy="1578.0" r="12.0" fill="#cbcac6" filter="url(#b2)"/>
<circle cx="633.0" cy="1590.0" r="13.0" fill="#bdb1a5" />
<circle cx="662.0" cy="1593.0" r="12.0" fill="#b8ab9e" />
<line x1="645.0" y1="1605.0" x2="640.0" y2="1630.0" stroke="#8a7d70" stroke-width="4" />
<ellipse cx="350" cy="1466" rx="18" ry="6" fill="#cbcac6" filter="url(#b2)"/>
<ellipse cx="381" cy="1463" rx="20" ry="7" fill="#c9bcae"/>
<line x1="381.0" y1="1468.0" x2="379.0" y2="1482.0" stroke="#8a6a5a" stroke-width="3" />
<path d="M828,1148 L808,1148 Q764,1175 764,1226 Q764,1280 808,1306 L828,1306 Z" fill="#9a9a98" filter="url(#b2)" transform="translate(-4,0)"/>
<path d="M828,1148 L808,1148 Q766,1175 766,1226 Q766,1280 808,1304 L828,1304 Z" fill="url(#gdisc)" />
<path d="M820,1165 L806,1168 Q776,1190 776,1226 Q776,1262 806,1285 L820,1290" fill="none" stroke="#5fc08c" stroke-width="1.2" opacity="0.8"/>
<path d="M808,1190 L792,1215 Q800,1240 795,1275 L803,1276 Q808,1240 800,1215 L814,1192 Z" fill="#8fd9b0" opacity="0.6"/>
<polygon points="829.0,1334.0 947.0,1400.0 783.0,1697.0 664.0,1628.0" fill="#163a24" />
<rect x="820.0" y="1353.5" width="134" height="47" rx="18" fill="#dbd2c6" transform="rotate(29.22 887.0 1377.0)"/>
<rect x="796.7" y="1393.5" width="134" height="47" rx="18" fill="#1d6a3a" transform="rotate(29.22 863.7 1417.0)"/>
<rect x="802.7" y="1391.5" width="122" height="5" rx="4" fill="#11492a" transform="rotate(29.22 863.7 1417.0)"/>
<rect x="773.4" y="1433.5" width="134" height="47" rx="18" fill="#dbd2c6" transform="rotate(29.22 840.4 1457.0)"/>
<rect x="750.1" y="1473.5" width="134" height="47" rx="18" fill="#1d6a3a" transform="rotate(29.22 817.1 1497.0)"/>
<rect x="756.1" y="1471.5" width="122" height="5" rx="4" fill="#11492a" transform="rotate(29.22 817.1 1497.0)"/>
<rect x="726.9" y="1513.5" width="134" height="47" rx="18" fill="#dbd2c6" transform="rotate(29.22 793.9 1537.0)"/>
<rect x="703.6" y="1553.5" width="134" height="47" rx="18" fill="#1d6a3a" transform="rotate(29.22 770.6 1577.0)"/>
<rect x="709.6" y="1551.5" width="122" height="5" rx="4" fill="#11492a" transform="rotate(29.22 770.6 1577.0)"/>
<rect x="680.3" y="1593.5" width="134" height="47" rx="18" fill="#dbd2c6" transform="rotate(29.22 747.3 1617.0)"/>
<rect x="657.0" y="1633.5" width="134" height="47" rx="18" fill="#1d6a3a" transform="rotate(29.22 724.0 1657.0)"/>
<rect x="663.0" y="1631.5" width="122" height="5" rx="4" fill="#11492a" transform="rotate(29.22 724.0 1657.0)"/>
<path d="M801,1741 L812,1719 L830,1722 L847,1737 L863,1753 L874,1777 L887,1800 L894,1824 L899,1849 L902,1880 L899,1899 L881,1906 L887,1919 L887,1965 L877,2011 L865,2041 L859,2112 L819,2115 L810,2087 L828,2026 L844,1980 L853,1940 L864,1921 L873,1906 L859,1894 L863,1862 L854,1830 L841,1800 L827,1768 L812,1750 Z" fill="#d3c8bb" />
<path d="M822,1735 L850,1752 L872,1790 L884,1830 L888,1880" fill="none" stroke="#dbd2c6" stroke-width="8" opacity="0.8"/>
<path d="M838,2100 L845,2030 L858,1985 L870,1940" fill="none" stroke="#dbd2c6" stroke-width="7" opacity="0.7"/>
<ellipse cx="841" cy="1731" rx="7" ry="9" fill="#17552f"/>
<ellipse cx="848" cy="1747" rx="6" ry="8" fill="#17552f"/>
<ellipse cx="818" cy="1765" rx="7" ry="9" fill="#17552f"/>
<ellipse cx="886" cy="1793" rx="6" ry="9" fill="#17552f"/>
<ellipse cx="852" cy="1827" rx="7" ry="9" fill="#17552f"/>
<ellipse cx="860" cy="1845" rx="6" ry="8" fill="#17552f"/>
<ellipse cx="897" cy="1832" rx="6" ry="9" fill="#17552f"/>
<ellipse cx="901" cy="1859" rx="5" ry="8" fill="#17552f"/>
<ellipse cx="902" cy="1874" rx="5" ry="8" fill="#17552f"/>
<ellipse cx="857" cy="1874" rx="6" ry="8" fill="#17552f"/>
<ellipse cx="856" cy="1930" rx="6" ry="9" fill="#17552f"/>
<ellipse cx="884" cy="1936" rx="5" ry="8" fill="#17552f"/>
<ellipse cx="890" cy="1955" rx="5" ry="8" fill="#17552f"/>
<ellipse cx="850" cy="1955" rx="5" ry="7" fill="#17552f"/>
<line x1="1429.0" y1="652.0" x2="1610.0" y2="953.0" stroke="#237a45" stroke-width="3.5" stroke-linecap="round"/>
<line x1="1429.0" y1="652.0" x2="1610.0" y2="953.0" stroke="#5fc08c" stroke-width="1" opacity="0.6"/>
<line x1="1542.0" y1="597.0" x2="1727.0" y2="888.0" stroke="#237a45" stroke-width="3.5" stroke-linecap="round"/>
<line x1="1542.0" y1="597.0" x2="1727.0" y2="888.0" stroke="#5fc08c" stroke-width="1" opacity="0.6"/>
<line x1="1610.0" y1="953.0" x2="1727.0" y2="888.0" stroke="#237a45" stroke-width="3.5" stroke-linecap="round"/>
<line x1="1610.0" y1="953.0" x2="1727.0" y2="888.0" stroke="#5fc08c" stroke-width="1" opacity="0.6"/>
<line x1="1445.5" y1="679.4" x2="1558.8" y2="623.5" stroke="#237a45" stroke-width="3" />
<line x1="1461.9" y1="706.7" x2="1575.6" y2="649.9" stroke="#237a45" stroke-width="3" />
<line x1="1478.4" y1="734.1" x2="1592.5" y2="676.4" stroke="#237a45" stroke-width="3" />
<line x1="1494.8" y1="761.5" x2="1609.3" y2="702.8" stroke="#237a45" stroke-width="3" />
<line x1="1511.3" y1="788.8" x2="1626.1" y2="729.3" stroke="#237a45" stroke-width="3" />
<line x1="1527.7" y1="816.2" x2="1642.9" y2="755.7" stroke="#237a45" stroke-width="3" />
<line x1="1544.2" y1="843.5" x2="1659.7" y2="782.2" stroke="#237a45" stroke-width="3" />
<line x1="1560.6" y1="870.9" x2="1676.5" y2="808.6" stroke="#237a45" stroke-width="3" />
<line x1="1577.1" y1="898.3" x2="1693.4" y2="835.1" stroke="#237a45" stroke-width="3" />
<line x1="1593.5" y1="925.6" x2="1710.2" y2="861.5" stroke="#237a45" stroke-width="3" />
<path d="M1760,850 L1772,845 L1768,905 L1756,908 Z" fill="#c9beb1" />
<line x1="1741.0" y1="878.0" x2="1760.0" y2="875.0" stroke="#aca092" stroke-width="4" />
<circle cx="1577.6" cy="1027.3" r="24.0" fill="#dbd2c6" />
<circle cx="1577.6" cy="1027.3" r="16.0" fill="none" stroke="#aca092" stroke-width="1" stroke-dasharray="3 5" opacity="0.5"/>
<circle cx="1577.6" cy="1027.3" r="2.0" fill="#aca092" />
<circle cx="1537.3" cy="1097.8" r="24.0" fill="#1d6a3a" />
<circle cx="1537.3" cy="1097.8" r="16.0" fill="none" stroke="#0d3d20" stroke-width="1" stroke-dasharray="3 5" opacity="0.5"/>
<circle cx="1537.3" cy="1097.8" r="2.0" fill="#0d3d20" />
<circle cx="1478.9" cy="1156.2" r="24.0" fill="#dbd2c6" />
<circle cx="1478.9" cy="1156.2" r="16.0" fill="none" stroke="#aca092" stroke-width="1" stroke-dasharray="3 5" opacity="0.5"/>
<circle cx="1478.9" cy="1156.2" r="2.0" fill="#aca092" />
<circle cx="1408.3" cy="1208.6" r="24.0" fill="#1d6a3a" />
<circle cx="1408.3" cy="1208.6" r="16.0" fill="none" stroke="#0d3d20" stroke-width="1" stroke-dasharray="3 5" opacity="0.5"/>
<circle cx="1408.3" cy="1208.6" r="2.0" fill="#0d3d20" />
<circle cx="1329.7" cy="1228.8" r="24.0" fill="#dbd2c6" />
<circle cx="1329.7" cy="1228.8" r="16.0" fill="none" stroke="#aca092" stroke-width="1" stroke-dasharray="3 5" opacity="0.5"/>
<circle cx="1329.7" cy="1228.8" r="2.0" fill="#aca092" />
<circle cx="1253.2" cy="1232.8" r="24.0" fill="#1d6a3a" />
<circle cx="1253.2" cy="1232.8" r="16.0" fill="none" stroke="#0d3d20" stroke-width="1" stroke-dasharray="3 5" opacity="0.5"/>
<circle cx="1253.2" cy="1232.8" r="2.0" fill="#0d3d20" />
<circle cx="1174.6" cy="1230.8" r="24.0" fill="#dbd2c6" />
<circle cx="1174.6" cy="1230.8" r="16.0" fill="none" stroke="#aca092" stroke-width="1" stroke-dasharray="3 5" opacity="0.5"/>
<circle cx="1174.6" cy="1230.8" r="2.0" fill="#aca092" />
<line x1="571.0" y1="318.0" x2="641.0" y2="440.0" stroke="#237a45" stroke-width="5" />
<path d="M620.8,306.0 Q623.8,317.0 613.3,321.5 Q606.6,330.7 596.6,325.3 Q585.2,325.8 583.2,314.6 Q575.7,306.0 583.2,297.4 Q585.2,286.2 596.6,286.7 Q606.6,281.3 613.3,290.5 Q623.8,295.0 620.8,306.0 Z" fill="#d9d0c5" />
<line x1="601.0" y1="306.0" x2="617.8" y2="314.1" stroke="#bdb2a5" stroke-width="1" opacity="0.6"/>
<line x1="601.0" y1="306.0" x2="605.2" y2="324.2" stroke="#bdb2a5" stroke-width="1" opacity="0.6"/>
<line x1="601.0" y1="306.0" x2="589.3" y2="320.6" stroke="#bdb2a5" stroke-width="1" opacity="0.6"/>
<line x1="601.0" y1="306.0" x2="582.3" y2="306.0" stroke="#bdb2a5" stroke-width="1" opacity="0.6"/>
<line x1="601.0" y1="306.0" x2="589.3" y2="291.4" stroke="#bdb2a5" stroke-width="1" opacity="0.6"/>
<line x1="601.0" y1="306.0" x2="605.2" y2="287.8" stroke="#bdb2a5" stroke-width="1" opacity="0.6"/>
<line x1="601.0" y1="306.0" x2="617.8" y2="297.9" stroke="#bdb2a5" stroke-width="1" opacity="0.6"/>
<path d="M575.9,363.0 Q578.8,373.5 568.8,377.8 Q562.4,386.5 552.8,381.4 Q541.9,381.9 540.0,371.2 Q532.9,363.0 540.0,354.8 Q541.9,344.1 552.8,344.6 Q562.4,339.5 568.8,348.2 Q578.8,352.5 575.9,363.0 Z" fill="#d9d0c5" />
<line x1="557.0" y1="363.0" x2="573.1" y2="370.7" stroke="#bdb2a5" stroke-width="1" opacity="0.6"/>
<line x1="557.0" y1="363.0" x2="561.0" y2="380.4" stroke="#bdb2a5" stroke-width="1" opacity="0.6"/>
<line x1="557.0" y1="363.0" x2="545.9" y2="377.0" stroke="#bdb2a5" stroke-width="1" opacity="0.6"/>
<line x1="557.0" y1="363.0" x2="539.1" y2="363.0" stroke="#bdb2a5" stroke-width="1" opacity="0.6"/>
<line x1="557.0" y1="363.0" x2="545.9" y2="349.0" stroke="#bdb2a5" stroke-width="1" opacity="0.6"/>
<line x1="557.0" y1="363.0" x2="561.0" y2="345.6" stroke="#bdb2a5" stroke-width="1" opacity="0.6"/>
<line x1="557.0" y1="363.0" x2="573.1" y2="355.3" stroke="#bdb2a5" stroke-width="1" opacity="0.6"/>
<path d="M656.8,366.0 Q659.8,377.0 649.3,381.5 Q642.6,390.7 632.6,385.3 Q621.2,385.8 619.2,374.6 Q611.7,366.0 619.2,357.4 Q621.2,346.2 632.6,346.7 Q642.6,341.3 649.3,350.5 Q659.8,355.0 656.8,366.0 Z" fill="#d9d0c5" />
<line x1="637.0" y1="366.0" x2="653.8" y2="374.1" stroke="#bdb2a5" stroke-width="1" opacity="0.6"/>
<line x1="637.0" y1="366.0" x2="641.2" y2="384.2" stroke="#bdb2a5" stroke-width="1" opacity="0.6"/>
<line x1="637.0" y1="366.0" x2="625.3" y2="380.6" stroke="#bdb2a5" stroke-width="1" opacity="0.6"/>
<line x1="637.0" y1="366.0" x2="618.3" y2="366.0" stroke="#bdb2a5" stroke-width="1" opacity="0.6"/>
<line x1="637.0" y1="366.0" x2="625.3" y2="351.4" stroke="#bdb2a5" stroke-width="1" opacity="0.6"/>
<line x1="637.0" y1="366.0" x2="641.2" y2="347.8" stroke="#bdb2a5" stroke-width="1" opacity="0.6"/>
<line x1="637.0" y1="366.0" x2="653.8" y2="357.9" stroke="#bdb2a5" stroke-width="1" opacity="0.6"/>
<path d="M603.8,411.0 Q606.8,422.0 596.3,426.5 Q589.6,435.7 579.6,430.3 Q568.2,430.8 566.2,419.6 Q558.7,411.0 566.2,402.4 Q568.2,391.2 579.6,391.7 Q589.6,386.3 596.3,395.5 Q606.8,400.0 603.8,411.0 Z" fill="#d9d0c5" />
<line x1="584.0" y1="411.0" x2="600.8" y2="419.1" stroke="#bdb2a5" stroke-width="1" opacity="0.6"/>
<line x1="584.0" y1="411.0" x2="588.2" y2="429.2" stroke="#bdb2a5" stroke-width="1" opacity="0.6"/>
<line x1="584.0" y1="411.0" x2="572.3" y2="425.6" stroke="#bdb2a5" stroke-width="1" opacity="0.6"/>
<line x1="584.0" y1="411.0" x2="565.3" y2="411.0" stroke="#bdb2a5" stroke-width="1" opacity="0.6"/>
<line x1="584.0" y1="411.0" x2="572.3" y2="396.4" stroke="#bdb2a5" stroke-width="1" opacity="0.6"/>
<line x1="584.0" y1="411.0" x2="588.2" y2="392.8" stroke="#bdb2a5" stroke-width="1" opacity="0.6"/>
<line x1="584.0" y1="411.0" x2="600.8" y2="402.9" stroke="#bdb2a5" stroke-width="1" opacity="0.6"/>
<path d="M676.9,402.0 Q679.8,412.5 669.8,416.8 Q663.4,425.5 653.8,420.4 Q642.9,420.9 641.0,410.2 Q633.9,402.0 641.0,393.8 Q642.9,383.1 653.8,383.6 Q663.4,378.5 669.8,387.2 Q679.8,391.5 676.9,402.0 Z" fill="#d9d0c5" />
<line x1="658.0" y1="402.0" x2="674.1" y2="409.7" stroke="#bdb2a5" stroke-width="1" opacity="0.6"/>
<line x1="658.0" y1="402.0" x2="662.0" y2="419.4" stroke="#bdb2a5" stroke-width="1" opacity="0.6"/>
<line x1="658.0" y1="402.0" x2="646.9" y2="416.0" stroke="#bdb2a5" stroke-width="1" opacity="0.6"/>
<line x1="658.0" y1="402.0" x2="640.1" y2="402.0" stroke="#bdb2a5" stroke-width="1" opacity="0.6"/>
<line x1="658.0" y1="402.0" x2="646.9" y2="388.0" stroke="#bdb2a5" stroke-width="1" opacity="0.6"/>
<line x1="658.0" y1="402.0" x2="662.0" y2="384.6" stroke="#bdb2a5" stroke-width="1" opacity="0.6"/>
<line x1="658.0" y1="402.0" x2="674.1" y2="394.3" stroke="#bdb2a5" stroke-width="1" opacity="0.6"/>
<circle cx="574.6" cy="495.2" r="2.2" fill="#4a2418" />
<circle cx="559.8" cy="493.6" r="2.2" fill="#4a2418" />
<circle cx="561.4" cy="478.8" r="2.2" fill="#4a2418" />
<circle cx="576.2" cy="480.4" r="2.2" fill="#4a2418" />
<circle cx="568.0" cy="487.0" r="10.0" fill="url(#postg)" />
<circle cx="568.0" cy="487.0" r="7.0" fill="none" stroke="#c79a86" stroke-width="0.8" opacity="0.5"/>
<circle cx="568.0" cy="487.0" r="1.6" fill="#f2d6c8" />
<circle cx="728.6" cy="404.0" r="2.2" fill="#4a2418" />
<circle cx="714.0" cy="406.6" r="2.2" fill="#4a2418" />
<circle cx="711.4" cy="392.0" r="2.2" fill="#4a2418" />
<circle cx="726.0" cy="389.4" r="2.2" fill="#4a2418" />
<circle cx="720.0" cy="398.0" r="10.0" fill="url(#postg)" />
<circle cx="720.0" cy="398.0" r="7.0" fill="none" stroke="#c79a86" stroke-width="0.8" opacity="0.5"/>
<circle cx="720.0" cy="398.0" r="1.6" fill="#f2d6c8" />
<circle cx="728.6" cy="580.0" r="2.2" fill="#4a2418" />
<circle cx="714.0" cy="582.6" r="2.2" fill="#4a2418" />
<circle cx="711.4" cy="568.0" r="2.2" fill="#4a2418" />
<circle cx="726.0" cy="565.4" r="2.2" fill="#4a2418" />
<circle cx="720.0" cy="574.0" r="10.0" fill="url(#postg)" />
<circle cx="720.0" cy="574.0" r="7.0" fill="none" stroke="#c79a86" stroke-width="0.8" opacity="0.5"/>
<circle cx="720.0" cy="574.0" r="1.6" fill="#f2d6c8" />
<circle cx="911.7" cy="403.0" r="2.2" fill="#4a2418" />
<circle cx="897.0" cy="401.7" r="2.2" fill="#4a2418" />
<circle cx="898.3" cy="387.0" r="2.2" fill="#4a2418" />
<circle cx="913.0" cy="388.3" r="2.2" fill="#4a2418" />
<circle cx="905.0" cy="395.0" r="10.0" fill="url(#postg)" />
<circle cx="905.0" cy="395.0" r="7.0" fill="none" stroke="#c79a86" stroke-width="0.8" opacity="0.5"/>
<circle cx="905.0" cy="395.0" r="1.6" fill="#f2d6c8" />
<circle cx="1088.8" cy="405.0" r="2.2" fill="#4a2418" />
<circle cx="1074.0" cy="405.8" r="2.2" fill="#4a2418" />
<circle cx="1073.2" cy="391.0" r="2.2" fill="#4a2418" />
<circle cx="1088.0" cy="390.2" r="2.2" fill="#4a2418" />
<circle cx="1081.0" cy="398.0" r="10.0" fill="url(#postg)" />
<circle cx="1081.0" cy="398.0" r="7.0" fill="none" stroke="#c79a86" stroke-width="0.8" opacity="0.5"/>
<circle cx="1081.0" cy="398.0" r="1.6" fill="#f2d6c8" />
<circle cx="911.7" cy="582.0" r="2.2" fill="#4a2418" />
<circle cx="897.0" cy="580.7" r="2.2" fill="#4a2418" />
<circle cx="898.3" cy="566.0" r="2.2" fill="#4a2418" />
<circle cx="913.0" cy="567.3" r="2.2" fill="#4a2418" />
<circle cx="905.0" cy="574.0" r="10.0" fill="url(#postg)" />
<circle cx="905.0" cy="574.0" r="7.0" fill="none" stroke="#c79a86" stroke-width="0.8" opacity="0.5"/>
<circle cx="905.0" cy="574.0" r="1.6" fill="#f2d6c8" />
<circle cx="1088.8" cy="578.0" r="2.2" fill="#4a2418" />
<circle cx="1074.0" cy="578.8" r="2.2" fill="#4a2418" />
<circle cx="1073.2" cy="564.0" r="2.2" fill="#4a2418" />
<circle cx="1088.0" cy="563.2" r="2.2" fill="#4a2418" />
<circle cx="1081.0" cy="571.0" r="10.0" fill="url(#postg)" />
<circle cx="1081.0" cy="571.0" r="7.0" fill="none" stroke="#c79a86" stroke-width="0.8" opacity="0.5"/>
<circle cx="1081.0" cy="571.0" r="1.6" fill="#f2d6c8" />
<circle cx="1260.1" cy="409.7" r="2.2" fill="#4a2418" />
<circle cx="1246.3" cy="404.1" r="2.2" fill="#4a2418" />
<circle cx="1251.9" cy="390.3" r="2.2" fill="#4a2418" />
<circle cx="1265.7" cy="395.9" r="2.2" fill="#4a2418" />
<circle cx="1256.0" cy="400.0" r="10.0" fill="url(#postg)" />
<circle cx="1256.0" cy="400.0" r="7.0" fill="none" stroke="#c79a86" stroke-width="0.8" opacity="0.5"/>
<circle cx="1256.0" cy="400.0" r="1.6" fill="#f2d6c8" />
<circle cx="1414.4" cy="321.5" r="2.2" fill="#4a2418" />
<circle cx="1400.5" cy="316.4" r="2.2" fill="#4a2418" />
<circle cx="1405.6" cy="302.5" r="2.2" fill="#4a2418" />
<circle cx="1419.5" cy="307.6" r="2.2" fill="#4a2418" />
<circle cx="1410.0" cy="312.0" r="10.0" fill="url(#postg)" />
<circle cx="1410.0" cy="312.0" r="7.0" fill="none" stroke="#c79a86" stroke-width="0.8" opacity="0.5"/>
<circle cx="1410.0" cy="312.0" r="1.6" fill="#f2d6c8" />
<circle cx="1505.9" cy="165.9" r="2.2" fill="#4a2418" />
<circle cx="1491.1" cy="166.9" r="2.2" fill="#4a2418" />
<circle cx="1490.1" cy="152.1" r="2.2" fill="#4a2418" />
<circle cx="1504.9" cy="151.1" r="2.2" fill="#4a2418" />
<circle cx="1498.0" cy="159.0" r="10.0" fill="url(#postg)" />
<circle cx="1498.0" cy="159.0" r="7.0" fill="none" stroke="#c79a86" stroke-width="0.8" opacity="0.5"/>
<circle cx="1498.0" cy="159.0" r="1.6" fill="#f2d6c8" />
<circle cx="1654.6" cy="253.9" r="2.2" fill="#4a2418" />
<circle cx="1640.1" cy="250.6" r="2.2" fill="#4a2418" />
<circle cx="1643.4" cy="236.1" r="2.2" fill="#4a2418" />
<circle cx="1657.9" cy="239.4" r="2.2" fill="#4a2418" />
<circle cx="1649.0" cy="245.0" r="10.0" fill="url(#postg)" />
<circle cx="1649.0" cy="245.0" r="7.0" fill="none" stroke="#c79a86" stroke-width="0.8" opacity="0.5"/>
<circle cx="1649.0" cy="245.0" r="1.6" fill="#f2d6c8" />
<circle cx="1568.8" cy="406.4" r="2.2" fill="#4a2418" />
<circle cx="1554.6" cy="401.8" r="2.2" fill="#4a2418" />
<circle cx="1559.2" cy="387.6" r="2.2" fill="#4a2418" />
<circle cx="1573.4" cy="392.2" r="2.2" fill="#4a2418" />
<circle cx="1564.0" cy="397.0" r="10.0" fill="url(#postg)" />
<circle cx="1564.0" cy="397.0" r="7.0" fill="none" stroke="#c79a86" stroke-width="0.8" opacity="0.5"/>
<circle cx="1564.0" cy="397.0" r="1.6" fill="#f2d6c8" />
<circle cx="1568.8" cy="579.4" r="2.2" fill="#4a2418" />
<circle cx="1554.6" cy="574.8" r="2.2" fill="#4a2418" />
<circle cx="1559.2" cy="560.6" r="2.2" fill="#4a2418" />
<circle cx="1573.4" cy="565.2" r="2.2" fill="#4a2418" />
<circle cx="1564.0" cy="570.0" r="10.0" fill="url(#postg)" />
<circle cx="1564.0" cy="570.0" r="7.0" fill="none" stroke="#c79a86" stroke-width="0.8" opacity="0.5"/>
<circle cx="1564.0" cy="570.0" r="1.6" fill="#f2d6c8" />
<circle cx="1414.4" cy="664.5" r="2.2" fill="#4a2418" />
<circle cx="1400.5" cy="659.4" r="2.2" fill="#4a2418" />
<circle cx="1405.6" cy="645.5" r="2.2" fill="#4a2418" />
<circle cx="1419.5" cy="650.6" r="2.2" fill="#4a2418" />
<circle cx="1410.0" cy="655.0" r="10.0" fill="url(#postg)" />
<circle cx="1410.0" cy="655.0" r="7.0" fill="none" stroke="#c79a86" stroke-width="0.8" opacity="0.5"/>
<circle cx="1410.0" cy="655.0" r="1.6" fill="#f2d6c8" />
<circle cx="1260.1" cy="581.7" r="2.2" fill="#4a2418" />
<circle cx="1246.3" cy="576.1" r="2.2" fill="#4a2418" />
<circle cx="1251.9" cy="562.3" r="2.2" fill="#4a2418" />
<circle cx="1265.7" cy="567.9" r="2.2" fill="#4a2418" />
<circle cx="1256.0" cy="572.0" r="10.0" fill="url(#postg)" />
<circle cx="1256.0" cy="572.0" r="7.0" fill="none" stroke="#c79a86" stroke-width="0.8" opacity="0.5"/>
<circle cx="1256.0" cy="572.0" r="1.6" fill="#f2d6c8" />
<circle cx="1123.1" cy="821.2" r="2.2" fill="#4a2418" />
<circle cx="1108.8" cy="817.1" r="2.2" fill="#4a2418" />
<circle cx="1112.9" cy="802.8" r="2.2" fill="#4a2418" />
<circle cx="1127.2" cy="806.9" r="2.2" fill="#4a2418" />
<circle cx="1118.0" cy="812.0" r="10.0" fill="url(#postg)" />
<circle cx="1118.0" cy="812.0" r="7.0" fill="none" stroke="#c79a86" stroke-width="0.8" opacity="0.5"/>
<circle cx="1118.0" cy="812.0" r="1.6" fill="#f2d6c8" />
<circle cx="985.9" cy="1058.9" r="2.2" fill="#4a2418" />
<circle cx="971.1" cy="1059.9" r="2.2" fill="#4a2418" />
<circle cx="970.1" cy="1045.1" r="2.2" fill="#4a2418" />
<circle cx="984.9" cy="1044.1" r="2.2" fill="#4a2418" />
<circle cx="978.0" cy="1052.0" r="10.0" fill="url(#postg)" />
<circle cx="978.0" cy="1052.0" r="7.0" fill="none" stroke="#c79a86" stroke-width="0.8" opacity="0.5"/>
<circle cx="978.0" cy="1052.0" r="1.6" fill="#f2d6c8" />
<circle cx="1277.5" cy="908.3" r="2.2" fill="#4a2418" />
<circle cx="1262.7" cy="906.5" r="2.2" fill="#4a2418" />
<circle cx="1264.5" cy="891.7" r="2.2" fill="#4a2418" />
<circle cx="1279.3" cy="893.5" r="2.2" fill="#4a2418" />
<circle cx="1271.0" cy="900.0" r="10.0" fill="url(#postg)" />
<circle cx="1271.0" cy="900.0" r="7.0" fill="none" stroke="#c79a86" stroke-width="0.8" opacity="0.5"/>
<circle cx="1271.0" cy="900.0" r="1.6" fill="#f2d6c8" />
<circle cx="1140.3" cy="1149.6" r="2.2" fill="#4a2418" />
<circle cx="1125.4" cy="1149.3" r="2.2" fill="#4a2418" />
<circle cx="1125.7" cy="1134.4" r="2.2" fill="#4a2418" />
<circle cx="1140.6" cy="1134.7" r="2.2" fill="#4a2418" />
<circle cx="1133.0" cy="1142.0" r="10.0" fill="url(#postg)" />
<circle cx="1133.0" cy="1142.0" r="7.0" fill="none" stroke="#c79a86" stroke-width="0.8" opacity="0.5"/>
<circle cx="1133.0" cy="1142.0" r="1.6" fill="#f2d6c8" />
<circle cx="831.7" cy="1147.0" r="2.2" fill="#4a2418" />
<circle cx="817.0" cy="1145.7" r="2.2" fill="#4a2418" />
<circle cx="818.3" cy="1131.0" r="2.2" fill="#4a2418" />
<circle cx="833.0" cy="1132.3" r="2.2" fill="#4a2418" />
<circle cx="825.0" cy="1139.0" r="10.0" fill="url(#postg)" />
<circle cx="825.0" cy="1139.0" r="7.0" fill="none" stroke="#c79a86" stroke-width="0.8" opacity="0.5"/>
<circle cx="825.0" cy="1139.0" r="1.6" fill="#f2d6c8" />
<circle cx="831.7" cy="1323.0" r="2.2" fill="#4a2418" />
<circle cx="817.0" cy="1321.7" r="2.2" fill="#4a2418" />
<circle cx="818.3" cy="1307.0" r="2.2" fill="#4a2418" />
<circle cx="833.0" cy="1308.3" r="2.2" fill="#4a2418" />
<circle cx="825.0" cy="1315.0" r="10.0" fill="url(#postg)" />
<circle cx="825.0" cy="1315.0" r="7.0" fill="none" stroke="#c79a86" stroke-width="0.8" opacity="0.5"/>
<circle cx="825.0" cy="1315.0" r="1.6" fill="#f2d6c8" />
<circle cx="980.2" cy="1412.1" r="2.2" fill="#4a2418" />
<circle cx="965.9" cy="1408.2" r="2.2" fill="#4a2418" />
<circle cx="969.8" cy="1393.9" r="2.2" fill="#4a2418" />
<circle cx="984.1" cy="1397.8" r="2.2" fill="#4a2418" />
<circle cx="975.0" cy="1403.0" r="10.0" fill="url(#postg)" />
<circle cx="975.0" cy="1403.0" r="7.0" fill="none" stroke="#c79a86" stroke-width="0.8" opacity="0.5"/>
<circle cx="975.0" cy="1403.0" r="1.6" fill="#f2d6c8" />
<circle cx="1134.4" cy="1322.5" r="2.2" fill="#4a2418" />
<circle cx="1120.5" cy="1317.4" r="2.2" fill="#4a2418" />
<circle cx="1125.6" cy="1303.5" r="2.2" fill="#4a2418" />
<circle cx="1139.5" cy="1308.6" r="2.2" fill="#4a2418" />
<circle cx="1130.0" cy="1313.0" r="10.0" fill="url(#postg)" />
<circle cx="1130.0" cy="1313.0" r="7.0" fill="none" stroke="#c79a86" stroke-width="0.8" opacity="0.5"/>
<circle cx="1130.0" cy="1313.0" r="1.6" fill="#f2d6c8" />
<circle cx="1140.2" cy="1146.6" r="2.2" fill="#4a2418" />
<circle cx="1125.4" cy="1148.2" r="2.2" fill="#4a2418" />
<circle cx="1123.8" cy="1133.4" r="2.2" fill="#4a2418" />
<circle cx="1138.6" cy="1131.8" r="2.2" fill="#4a2418" />
<circle cx="1132.0" cy="1140.0" r="10.0" fill="url(#postg)" />
<circle cx="1132.0" cy="1140.0" r="7.0" fill="none" stroke="#c79a86" stroke-width="0.8" opacity="0.5"/>
<circle cx="1132.0" cy="1140.0" r="1.6" fill="#f2d6c8" />
<circle cx="1117.1" cy="1651.0" r="2.2" fill="#4a2418" />
<circle cx="1104.0" cy="1644.1" r="2.2" fill="#4a2418" />
<circle cx="1110.9" cy="1631.0" r="2.2" fill="#4a2418" />
<circle cx="1124.0" cy="1637.9" r="2.2" fill="#4a2418" />
<circle cx="1114.0" cy="1641.0" r="10.0" fill="url(#postg)" />
<circle cx="1114.0" cy="1641.0" r="7.0" fill="none" stroke="#c79a86" stroke-width="0.8" opacity="0.5"/>
<circle cx="1114.0" cy="1641.0" r="1.6" fill="#f2d6c8" />
<circle cx="1260.3" cy="1889.4" r="2.2" fill="#4a2418" />
<circle cx="1245.6" cy="1887.3" r="2.2" fill="#4a2418" />
<circle cx="1247.7" cy="1872.6" r="2.2" fill="#4a2418" />
<circle cx="1262.4" cy="1874.7" r="2.2" fill="#4a2418" />
<circle cx="1254.0" cy="1881.0" r="10.0" fill="url(#postg)" />
<circle cx="1254.0" cy="1881.0" r="7.0" fill="none" stroke="#c79a86" stroke-width="0.8" opacity="0.5"/>
<circle cx="1254.0" cy="1881.0" r="1.6" fill="#f2d6c8" />
<circle cx="1271.6" cy="1563.4" r="2.2" fill="#4a2418" />
<circle cx="1257.6" cy="1558.6" r="2.2" fill="#4a2418" />
<circle cx="1262.4" cy="1544.6" r="2.2" fill="#4a2418" />
<circle cx="1276.4" cy="1549.4" r="2.2" fill="#4a2418" />
<circle cx="1267.0" cy="1554.0" r="10.0" fill="url(#postg)" />
<circle cx="1267.0" cy="1554.0" r="7.0" fill="none" stroke="#c79a86" stroke-width="0.8" opacity="0.5"/>
<circle cx="1267.0" cy="1554.0" r="1.6" fill="#f2d6c8" />
<circle cx="1408.6" cy="1801.9" r="2.2" fill="#4a2418" />
<circle cx="1395.1" cy="1795.6" r="2.2" fill="#4a2418" />
<circle cx="1401.4" cy="1782.1" r="2.2" fill="#4a2418" />
<circle cx="1414.9" cy="1788.4" r="2.2" fill="#4a2418" />
<circle cx="1405.0" cy="1792.0" r="10.0" fill="url(#postg)" />
<circle cx="1405.0" cy="1792.0" r="7.0" fill="none" stroke="#c79a86" stroke-width="0.8" opacity="0.5"/>
<circle cx="1405.0" cy="1792.0" r="1.6" fill="#f2d6c8" />
<circle cx="386.0" cy="1495.8" r="2.2" fill="#4a2418" />
<circle cx="371.2" cy="1495.0" r="2.2" fill="#4a2418" />
<circle cx="372.0" cy="1480.2" r="2.2" fill="#4a2418" />
<circle cx="386.8" cy="1481.0" r="2.2" fill="#4a2418" />
<circle cx="379.0" cy="1488.0" r="10.0" fill="url(#postg)" />
<circle cx="379.0" cy="1488.0" r="7.0" fill="none" stroke="#c79a86" stroke-width="0.8" opacity="0.5"/>
<circle cx="379.0" cy="1488.0" r="1.6" fill="#f2d6c8" />
<circle cx="557.5" cy="1496.3" r="2.2" fill="#4a2418" />
<circle cx="542.7" cy="1494.5" r="2.2" fill="#4a2418" />
<circle cx="544.5" cy="1479.7" r="2.2" fill="#4a2418" />
<circle cx="559.3" cy="1481.5" r="2.2" fill="#4a2418" />
<circle cx="551.0" cy="1488.0" r="10.0" fill="url(#postg)" />
<circle cx="551.0" cy="1488.0" r="7.0" fill="none" stroke="#c79a86" stroke-width="0.8" opacity="0.5"/>
<circle cx="551.0" cy="1488.0" r="1.6" fill="#f2d6c8" />
<circle cx="648.6" cy="1642.0" r="2.2" fill="#4a2418" />
<circle cx="634.0" cy="1644.6" r="2.2" fill="#4a2418" />
<circle cx="631.4" cy="1630.0" r="2.2" fill="#4a2418" />
<circle cx="646.0" cy="1627.4" r="2.2" fill="#4a2418" />
<circle cx="640.0" cy="1636.0" r="10.0" fill="url(#postg)" />
<circle cx="640.0" cy="1636.0" r="7.0" fill="none" stroke="#c79a86" stroke-width="0.8" opacity="0.5"/>
<circle cx="640.0" cy="1636.0" r="1.6" fill="#f2d6c8" />
<circle cx="797.5" cy="1732.3" r="2.2" fill="#4a2418" />
<circle cx="782.7" cy="1730.5" r="2.2" fill="#4a2418" />
<circle cx="784.5" cy="1715.7" r="2.2" fill="#4a2418" />
<circle cx="799.3" cy="1717.5" r="2.2" fill="#4a2418" />
<circle cx="791.0" cy="1724.0" r="10.0" fill="url(#postg)" />
<circle cx="791.0" cy="1724.0" r="7.0" fill="none" stroke="#c79a86" stroke-width="0.8" opacity="0.5"/>
<circle cx="791.0" cy="1724.0" r="1.6" fill="#f2d6c8" />
<circle cx="711.5" cy="1882.2" r="2.2" fill="#4a2418" />
<circle cx="696.8" cy="1884.5" r="2.2" fill="#4a2418" />
<circle cx="694.5" cy="1869.8" r="2.2" fill="#4a2418" />
<circle cx="709.2" cy="1867.5" r="2.2" fill="#4a2418" />
<circle cx="703.0" cy="1876.0" r="10.0" fill="url(#postg)" />
<circle cx="703.0" cy="1876.0" r="7.0" fill="none" stroke="#c79a86" stroke-width="0.8" opacity="0.5"/>
<circle cx="703.0" cy="1876.0" r="1.6" fill="#f2d6c8" />
<circle cx="557.5" cy="1796.3" r="2.2" fill="#4a2418" />
<circle cx="542.7" cy="1794.5" r="2.2" fill="#4a2418" />
<circle cx="544.5" cy="1779.7" r="2.2" fill="#4a2418" />
<circle cx="559.3" cy="1781.5" r="2.2" fill="#4a2418" />
<circle cx="551.0" cy="1788.0" r="10.0" fill="url(#postg)" />
<circle cx="551.0" cy="1788.0" r="7.0" fill="none" stroke="#c79a86" stroke-width="0.8" opacity="0.5"/>
<circle cx="551.0" cy="1788.0" r="1.6" fill="#f2d6c8" />
<circle cx="1597.4" cy="972.4" r="2.2" fill="#4a2418" />
<circle cx="1582.6" cy="972.4" r="2.2" fill="#4a2418" />
<circle cx="1582.6" cy="957.6" r="2.2" fill="#4a2418" />
<circle cx="1597.4" cy="957.6" r="2.2" fill="#4a2418" />
<circle cx="1590.0" cy="965.0" r="10.0" fill="url(#postg)" />
<circle cx="1590.0" cy="965.0" r="7.0" fill="none" stroke="#c79a86" stroke-width="0.8" opacity="0.5"/>
<circle cx="1590.0" cy="965.0" r="1.6" fill="#f2d6c8" />
<circle cx="1745.9" cy="887.3" r="2.2" fill="#4a2418" />
<circle cx="1731.7" cy="882.9" r="2.2" fill="#4a2418" />
<circle cx="1736.1" cy="868.7" r="2.2" fill="#4a2418" />
<circle cx="1750.3" cy="873.1" r="2.2" fill="#4a2418" />
<circle cx="1741.0" cy="878.0" r="10.0" fill="url(#postg)" />
<circle cx="1741.0" cy="878.0" r="7.0" fill="none" stroke="#c79a86" stroke-width="0.8" opacity="0.5"/>
<circle cx="1741.0" cy="878.0" r="1.6" fill="#f2d6c8" />
<text transform="translate(964.05 467.00) scale(1.0865 1)" x="0" y="0" fill="#fbf8f2" font-family="Liberation Sans, sans-serif" font-size="43.7">48&quot;</text>
<text transform="translate(930.29 517.00) scale(1.0599 1)" x="0" y="0" fill="#fbf8f2" font-family="Liberation Sans, sans-serif" font-size="43.7">120cm</text>
<text transform="translate(649.05 471.50) scale(1.0865 1)" x="0" y="0" fill="#fbf8f2" font-family="Liberation Sans, sans-serif" font-size="43.7">48&quot;</text>
<text transform="translate(615.31 522.00) scale(1.0558 1)" x="0" y="0" fill="#fbf8f2" font-family="Liberation Sans, sans-serif" font-size="43.7">120cm</text>
<text transform="translate(1376.61 472.00) scale(1.0937 1)" x="0" y="0" fill="#fbf8f2" font-family="Liberation Sans, sans-serif" font-size="43.7">24&quot;</text>
<text transform="translate(1355.68 522.00) scale(1.0603 1)" x="0" y="0" fill="#fbf8f2" font-family="Liberation Sans, sans-serif" font-size="43.7">60cm</text>
<text transform="translate(1495.61 265.00) scale(1.0937 1)" x="0" y="0" fill="#fbf8f2" font-family="Liberation Sans, sans-serif" font-size="43.7">24&quot;</text>
<text transform="translate(1473.66 315.00) scale(1.0702 1)" x="0" y="0" fill="#fbf8f2" font-family="Liberation Sans, sans-serif" font-size="43.7">60cm</text>
<text transform="translate(946.74 1216.00) scale(1.0753 1)" x="0" y="0" fill="#fbf8f2" font-family="Liberation Sans, sans-serif" font-size="43.7">12&quot;</text>
<text transform="translate(925.16 1266.00) scale(1.0509 1)" x="0" y="0" fill="#fbf8f2" font-family="Liberation Sans, sans-serif" font-size="43.7">30cm</text>
<text transform="translate(506.57 1587.00) scale(1.1105 1)" x="0" y="0" fill="#fbf8f2" font-family="Liberation Sans, sans-serif" font-size="43.7">60&quot;</text>
<text transform="translate(473.31 1637.00) scale(1.0558 1)" x="0" y="0" fill="#fbf8f2" font-family="Liberation Sans, sans-serif" font-size="43.7">150cm</text>
<text transform="translate(643.04 1738.00) scale(1.1030 1)" x="0" y="0" fill="#fbf8f2" font-family="Liberation Sans, sans-serif" font-size="43.7">48&quot;</text>
<text transform="translate(609.32 1788.00) scale(1.0518 1)" x="0" y="0" fill="#fbf8f2" font-family="Liberation Sans, sans-serif" font-size="43.7">120cm</text></svg>
</body></html>
